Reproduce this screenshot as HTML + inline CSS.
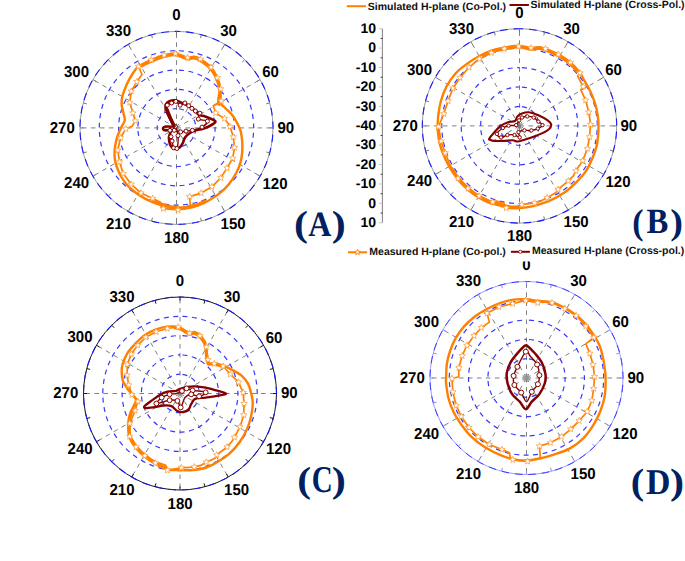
<!DOCTYPE html>
<html><head><meta charset="utf-8"><style>
html,body{margin:0;padding:0;background:#fff;}
svg{display:block;}
text{text-rendering:geometricPrecision;}
.lb{font-family:"Liberation Sans",sans-serif;font-weight:bold;font-size:15.8px;fill:#000;}
.ax{font-family:"Liberation Sans",sans-serif;font-weight:bold;font-size:14px;fill:#000;}
.lg{font-family:"Liberation Sans",sans-serif;font-weight:bold;font-size:10.5px;fill:#111;}
.big{font-family:"Liberation Serif",serif;font-weight:bold;font-size:36px;fill:#002060;}
</style></head><body>
<svg width="685" height="561" viewBox="0 0 685 561">
<line x1="176.50" y1="127.90" x2="176.50" y2="31.40" stroke="#808080" stroke-width="1" stroke-dasharray="4.6 4.4"/>
<line x1="176.50" y1="127.90" x2="224.75" y2="44.33" stroke="#808080" stroke-width="1" stroke-dasharray="4.6 4.4"/>
<line x1="176.50" y1="127.90" x2="260.07" y2="79.65" stroke="#808080" stroke-width="1" stroke-dasharray="4.6 4.4"/>
<line x1="176.50" y1="127.90" x2="273.00" y2="127.90" stroke="#808080" stroke-width="1" stroke-dasharray="4.6 4.4"/>
<line x1="176.50" y1="127.90" x2="260.07" y2="176.15" stroke="#808080" stroke-width="1" stroke-dasharray="4.6 4.4"/>
<line x1="176.50" y1="127.90" x2="224.75" y2="211.47" stroke="#808080" stroke-width="1" stroke-dasharray="4.6 4.4"/>
<line x1="176.50" y1="127.90" x2="176.50" y2="224.40" stroke="#808080" stroke-width="1" stroke-dasharray="4.6 4.4"/>
<line x1="176.50" y1="127.90" x2="128.25" y2="211.47" stroke="#808080" stroke-width="1" stroke-dasharray="4.6 4.4"/>
<line x1="176.50" y1="127.90" x2="92.93" y2="176.15" stroke="#808080" stroke-width="1" stroke-dasharray="4.6 4.4"/>
<line x1="176.50" y1="127.90" x2="80.00" y2="127.90" stroke="#808080" stroke-width="1" stroke-dasharray="4.6 4.4"/>
<line x1="176.50" y1="127.90" x2="92.93" y2="79.65" stroke="#808080" stroke-width="1" stroke-dasharray="4.6 4.4"/>
<line x1="176.50" y1="127.90" x2="128.25" y2="44.33" stroke="#808080" stroke-width="1" stroke-dasharray="4.6 4.4"/>
<path d="M176.50,108.60 A19.30,19.30 0 1 1 176.50,147.20 A19.30,19.30 0 1 1 176.50,108.60" fill="none" stroke="#3838ff" stroke-width="1.2" stroke-dasharray="5 4.5" stroke-dashoffset="-2.5"/>
<path d="M176.50,89.30 A38.60,38.60 0 1 1 176.50,166.50 A38.60,38.60 0 1 1 176.50,89.30" fill="none" stroke="#3838ff" stroke-width="1.2" stroke-dasharray="5 4.5" stroke-dashoffset="-2.5"/>
<path d="M176.50,70.00 A57.90,57.90 0 1 1 176.50,185.80 A57.90,57.90 0 1 1 176.50,70.00" fill="none" stroke="#3838ff" stroke-width="1.2" stroke-dasharray="5 4.5" stroke-dashoffset="-2.5"/>
<path d="M176.50,50.70 A77.20,77.20 0 1 1 176.50,205.10 A77.20,77.20 0 1 1 176.50,50.70" fill="none" stroke="#3838ff" stroke-width="1.2" stroke-dasharray="5 4.5" stroke-dashoffset="-2.5"/>
<circle cx="176.5" cy="127.9" r="96.50" fill="none" stroke="#9a9a9a" stroke-width="1"/>
<path d="M176.50,31.40 A96.50,96.50 0 1 1 176.50,224.40 A96.50,96.50 0 1 1 176.50,31.40" fill="none" stroke="#1a1aff" stroke-width="1.1" stroke-dasharray="7.5 6" stroke-dashoffset="3.75"/>
<line x1="176.50" y1="31.40" x2="176.50" y2="34.90" stroke="#777" stroke-width="1"/>
<line x1="201.48" y1="34.69" x2="200.57" y2="38.07" stroke="#777" stroke-width="1"/>
<line x1="224.75" y1="44.33" x2="223.00" y2="47.36" stroke="#777" stroke-width="1"/>
<line x1="244.74" y1="59.66" x2="242.26" y2="62.14" stroke="#777" stroke-width="1"/>
<line x1="260.07" y1="79.65" x2="257.04" y2="81.40" stroke="#777" stroke-width="1"/>
<line x1="269.71" y1="102.92" x2="266.33" y2="103.83" stroke="#777" stroke-width="1"/>
<line x1="273.00" y1="127.90" x2="269.50" y2="127.90" stroke="#777" stroke-width="1"/>
<line x1="269.71" y1="152.88" x2="266.33" y2="151.97" stroke="#777" stroke-width="1"/>
<line x1="260.07" y1="176.15" x2="257.04" y2="174.40" stroke="#777" stroke-width="1"/>
<line x1="244.74" y1="196.14" x2="242.26" y2="193.66" stroke="#777" stroke-width="1"/>
<line x1="224.75" y1="211.47" x2="223.00" y2="208.44" stroke="#777" stroke-width="1"/>
<line x1="201.48" y1="221.11" x2="200.57" y2="217.73" stroke="#777" stroke-width="1"/>
<line x1="176.50" y1="224.40" x2="176.50" y2="220.90" stroke="#777" stroke-width="1"/>
<line x1="151.52" y1="221.11" x2="152.43" y2="217.73" stroke="#777" stroke-width="1"/>
<line x1="128.25" y1="211.47" x2="130.00" y2="208.44" stroke="#777" stroke-width="1"/>
<line x1="108.26" y1="196.14" x2="110.74" y2="193.66" stroke="#777" stroke-width="1"/>
<line x1="92.93" y1="176.15" x2="95.96" y2="174.40" stroke="#777" stroke-width="1"/>
<line x1="83.29" y1="152.88" x2="86.67" y2="151.97" stroke="#777" stroke-width="1"/>
<line x1="80.00" y1="127.90" x2="83.50" y2="127.90" stroke="#777" stroke-width="1"/>
<line x1="83.29" y1="102.92" x2="86.67" y2="103.83" stroke="#777" stroke-width="1"/>
<line x1="92.93" y1="79.65" x2="95.96" y2="81.40" stroke="#777" stroke-width="1"/>
<line x1="108.26" y1="59.66" x2="110.74" y2="62.14" stroke="#777" stroke-width="1"/>
<line x1="128.25" y1="44.33" x2="130.00" y2="47.36" stroke="#777" stroke-width="1"/>
<line x1="151.52" y1="34.69" x2="152.43" y2="38.07" stroke="#777" stroke-width="1"/>
<text transform="translate(176.45,20.26) scale(0.95,1)" x="0" y="0" text-anchor="middle" class="lb">0</text>
<text transform="translate(228.60,36.16) scale(0.95,1)" x="0" y="0" text-anchor="middle" class="lb">30</text>
<text transform="translate(270.55,77.16) scale(0.95,1)" x="0" y="0" text-anchor="middle" class="lb">60</text>
<text transform="translate(285.85,132.86) scale(0.95,1)" x="0" y="0" text-anchor="middle" class="lb">90</text>
<text transform="translate(274.95,188.76) scale(0.95,1)" x="0" y="0" text-anchor="middle" class="lb">120</text>
<text transform="translate(233.05,229.26) scale(0.95,1)" x="0" y="0" text-anchor="middle" class="lb">150</text>
<text transform="translate(176.55,243.26) scale(0.95,1)" x="0" y="0" text-anchor="middle" class="lb">180</text>
<text transform="translate(118.45,229.36) scale(0.95,1)" x="0" y="0" text-anchor="middle" class="lb">210</text>
<text transform="translate(76.55,188.46) scale(0.95,1)" x="0" y="0" text-anchor="middle" class="lb">240</text>
<text transform="translate(62.20,132.76) scale(0.95,1)" x="0" y="0" text-anchor="middle" class="lb">270</text>
<text transform="translate(76.45,76.71) scale(0.95,1)" x="0" y="0" text-anchor="middle" class="lb">300</text>
<text transform="translate(118.50,36.16) scale(0.95,1)" x="0" y="0" text-anchor="middle" class="lb">330</text>
<line x1="519.50" y1="125.90" x2="519.50" y2="28.70" stroke="#808080" stroke-width="1" stroke-dasharray="4.6 4.4"/>
<line x1="519.50" y1="125.90" x2="568.10" y2="41.72" stroke="#808080" stroke-width="1" stroke-dasharray="4.6 4.4"/>
<line x1="519.50" y1="125.90" x2="603.68" y2="77.30" stroke="#808080" stroke-width="1" stroke-dasharray="4.6 4.4"/>
<line x1="519.50" y1="125.90" x2="616.70" y2="125.90" stroke="#808080" stroke-width="1" stroke-dasharray="4.6 4.4"/>
<line x1="519.50" y1="125.90" x2="603.68" y2="174.50" stroke="#808080" stroke-width="1" stroke-dasharray="4.6 4.4"/>
<line x1="519.50" y1="125.90" x2="568.10" y2="210.08" stroke="#808080" stroke-width="1" stroke-dasharray="4.6 4.4"/>
<line x1="519.50" y1="125.90" x2="519.50" y2="223.10" stroke="#808080" stroke-width="1" stroke-dasharray="4.6 4.4"/>
<line x1="519.50" y1="125.90" x2="470.90" y2="210.08" stroke="#808080" stroke-width="1" stroke-dasharray="4.6 4.4"/>
<line x1="519.50" y1="125.90" x2="435.32" y2="174.50" stroke="#808080" stroke-width="1" stroke-dasharray="4.6 4.4"/>
<line x1="519.50" y1="125.90" x2="422.30" y2="125.90" stroke="#808080" stroke-width="1" stroke-dasharray="4.6 4.4"/>
<line x1="519.50" y1="125.90" x2="435.32" y2="77.30" stroke="#808080" stroke-width="1" stroke-dasharray="4.6 4.4"/>
<line x1="519.50" y1="125.90" x2="470.90" y2="41.72" stroke="#808080" stroke-width="1" stroke-dasharray="4.6 4.4"/>
<path d="M519.50,106.46 A19.44,19.44 0 1 1 519.50,145.34 A19.44,19.44 0 1 1 519.50,106.46" fill="none" stroke="#3838ff" stroke-width="1.2" stroke-dasharray="5 4.5" stroke-dashoffset="-2.5"/>
<path d="M519.50,87.02 A38.88,38.88 0 1 1 519.50,164.78 A38.88,38.88 0 1 1 519.50,87.02" fill="none" stroke="#3838ff" stroke-width="1.2" stroke-dasharray="5 4.5" stroke-dashoffset="-2.5"/>
<path d="M519.50,67.58 A58.32,58.32 0 1 1 519.50,184.22 A58.32,58.32 0 1 1 519.50,67.58" fill="none" stroke="#3838ff" stroke-width="1.2" stroke-dasharray="5 4.5" stroke-dashoffset="-2.5"/>
<path d="M519.50,48.14 A77.76,77.76 0 1 1 519.50,203.66 A77.76,77.76 0 1 1 519.50,48.14" fill="none" stroke="#3838ff" stroke-width="1.2" stroke-dasharray="5 4.5" stroke-dashoffset="-2.5"/>
<circle cx="519.5" cy="125.9" r="97.20" fill="none" stroke="#9a9a9a" stroke-width="1"/>
<path d="M519.50,28.70 A97.20,97.20 0 1 1 519.50,223.10 A97.20,97.20 0 1 1 519.50,28.70" fill="none" stroke="#1a1aff" stroke-width="1.1" stroke-dasharray="7.5 6" stroke-dashoffset="3.75"/>
<line x1="519.50" y1="28.70" x2="519.50" y2="32.20" stroke="#777" stroke-width="1"/>
<line x1="544.66" y1="32.01" x2="543.75" y2="35.39" stroke="#777" stroke-width="1"/>
<line x1="568.10" y1="41.72" x2="566.35" y2="44.75" stroke="#777" stroke-width="1"/>
<line x1="588.23" y1="57.17" x2="585.76" y2="59.64" stroke="#777" stroke-width="1"/>
<line x1="603.68" y1="77.30" x2="600.65" y2="79.05" stroke="#777" stroke-width="1"/>
<line x1="613.39" y1="100.74" x2="610.01" y2="101.65" stroke="#777" stroke-width="1"/>
<line x1="616.70" y1="125.90" x2="613.20" y2="125.90" stroke="#777" stroke-width="1"/>
<line x1="613.39" y1="151.06" x2="610.01" y2="150.15" stroke="#777" stroke-width="1"/>
<line x1="603.68" y1="174.50" x2="600.65" y2="172.75" stroke="#777" stroke-width="1"/>
<line x1="588.23" y1="194.63" x2="585.76" y2="192.16" stroke="#777" stroke-width="1"/>
<line x1="568.10" y1="210.08" x2="566.35" y2="207.05" stroke="#777" stroke-width="1"/>
<line x1="544.66" y1="219.79" x2="543.75" y2="216.41" stroke="#777" stroke-width="1"/>
<line x1="519.50" y1="223.10" x2="519.50" y2="219.60" stroke="#777" stroke-width="1"/>
<line x1="494.34" y1="219.79" x2="495.25" y2="216.41" stroke="#777" stroke-width="1"/>
<line x1="470.90" y1="210.08" x2="472.65" y2="207.05" stroke="#777" stroke-width="1"/>
<line x1="450.77" y1="194.63" x2="453.24" y2="192.16" stroke="#777" stroke-width="1"/>
<line x1="435.32" y1="174.50" x2="438.35" y2="172.75" stroke="#777" stroke-width="1"/>
<line x1="425.61" y1="151.06" x2="428.99" y2="150.15" stroke="#777" stroke-width="1"/>
<line x1="422.30" y1="125.90" x2="425.80" y2="125.90" stroke="#777" stroke-width="1"/>
<line x1="425.61" y1="100.74" x2="428.99" y2="101.65" stroke="#777" stroke-width="1"/>
<line x1="435.32" y1="77.30" x2="438.35" y2="79.05" stroke="#777" stroke-width="1"/>
<line x1="450.77" y1="57.17" x2="453.24" y2="59.64" stroke="#777" stroke-width="1"/>
<line x1="470.90" y1="41.72" x2="472.65" y2="44.75" stroke="#777" stroke-width="1"/>
<line x1="494.34" y1="32.01" x2="495.25" y2="35.39" stroke="#777" stroke-width="1"/>
<text transform="translate(519.45,18.26) scale(0.95,1)" x="0" y="0" text-anchor="middle" class="lb">0</text>
<text transform="translate(571.60,34.16) scale(0.95,1)" x="0" y="0" text-anchor="middle" class="lb">30</text>
<text transform="translate(613.55,75.16) scale(0.95,1)" x="0" y="0" text-anchor="middle" class="lb">60</text>
<text transform="translate(628.85,130.86) scale(0.95,1)" x="0" y="0" text-anchor="middle" class="lb">90</text>
<text transform="translate(617.95,186.76) scale(0.95,1)" x="0" y="0" text-anchor="middle" class="lb">120</text>
<text transform="translate(576.05,227.26) scale(0.95,1)" x="0" y="0" text-anchor="middle" class="lb">150</text>
<text transform="translate(519.55,241.26) scale(0.95,1)" x="0" y="0" text-anchor="middle" class="lb">180</text>
<text transform="translate(461.45,227.36) scale(0.95,1)" x="0" y="0" text-anchor="middle" class="lb">210</text>
<text transform="translate(419.55,186.46) scale(0.95,1)" x="0" y="0" text-anchor="middle" class="lb">240</text>
<text transform="translate(405.20,130.76) scale(0.95,1)" x="0" y="0" text-anchor="middle" class="lb">270</text>
<text transform="translate(419.45,74.71) scale(0.95,1)" x="0" y="0" text-anchor="middle" class="lb">300</text>
<text transform="translate(461.50,34.16) scale(0.95,1)" x="0" y="0" text-anchor="middle" class="lb">330</text>
<line x1="180.00" y1="393.50" x2="180.00" y2="297.00" stroke="#808080" stroke-width="1" stroke-dasharray="4.6 4.4"/>
<line x1="180.00" y1="393.50" x2="228.25" y2="309.93" stroke="#808080" stroke-width="1" stroke-dasharray="4.6 4.4"/>
<line x1="180.00" y1="393.50" x2="263.57" y2="345.25" stroke="#808080" stroke-width="1" stroke-dasharray="4.6 4.4"/>
<line x1="180.00" y1="393.50" x2="276.50" y2="393.50" stroke="#808080" stroke-width="1" stroke-dasharray="4.6 4.4"/>
<line x1="180.00" y1="393.50" x2="263.57" y2="441.75" stroke="#808080" stroke-width="1" stroke-dasharray="4.6 4.4"/>
<line x1="180.00" y1="393.50" x2="228.25" y2="477.07" stroke="#808080" stroke-width="1" stroke-dasharray="4.6 4.4"/>
<line x1="180.00" y1="393.50" x2="180.00" y2="490.00" stroke="#808080" stroke-width="1" stroke-dasharray="4.6 4.4"/>
<line x1="180.00" y1="393.50" x2="131.75" y2="477.07" stroke="#808080" stroke-width="1" stroke-dasharray="4.6 4.4"/>
<line x1="180.00" y1="393.50" x2="96.43" y2="441.75" stroke="#808080" stroke-width="1" stroke-dasharray="4.6 4.4"/>
<line x1="180.00" y1="393.50" x2="83.50" y2="393.50" stroke="#808080" stroke-width="1" stroke-dasharray="4.6 4.4"/>
<line x1="180.00" y1="393.50" x2="96.43" y2="345.25" stroke="#808080" stroke-width="1" stroke-dasharray="4.6 4.4"/>
<line x1="180.00" y1="393.50" x2="131.75" y2="309.93" stroke="#808080" stroke-width="1" stroke-dasharray="4.6 4.4"/>
<path d="M180.00,374.20 A19.30,19.30 0 1 1 180.00,412.80 A19.30,19.30 0 1 1 180.00,374.20" fill="none" stroke="#3838ff" stroke-width="1.2" stroke-dasharray="5 4.5" stroke-dashoffset="-2.5"/>
<path d="M180.00,354.90 A38.60,38.60 0 1 1 180.00,432.10 A38.60,38.60 0 1 1 180.00,354.90" fill="none" stroke="#3838ff" stroke-width="1.2" stroke-dasharray="5 4.5" stroke-dashoffset="-2.5"/>
<path d="M180.00,335.60 A57.90,57.90 0 1 1 180.00,451.40 A57.90,57.90 0 1 1 180.00,335.60" fill="none" stroke="#3838ff" stroke-width="1.2" stroke-dasharray="5 4.5" stroke-dashoffset="-2.5"/>
<path d="M180.00,316.30 A77.20,77.20 0 1 1 180.00,470.70 A77.20,77.20 0 1 1 180.00,316.30" fill="none" stroke="#3838ff" stroke-width="1.2" stroke-dasharray="5 4.5" stroke-dashoffset="-2.5"/>
<circle cx="180.0" cy="393.5" r="96.50" fill="none" stroke="#151515" stroke-width="1"/>
<path d="M180.00,297.00 A96.50,96.50 0 1 1 180.00,490.00 A96.50,96.50 0 1 1 180.00,297.00" fill="none" stroke="#1a1aff" stroke-width="1.1" stroke-dasharray="7.5 6" stroke-dashoffset="3.75"/>
<line x1="180.00" y1="297.00" x2="180.00" y2="300.50" stroke="#151515" stroke-width="1"/>
<line x1="204.98" y1="300.29" x2="204.07" y2="303.67" stroke="#151515" stroke-width="1"/>
<line x1="228.25" y1="309.93" x2="226.50" y2="312.96" stroke="#151515" stroke-width="1"/>
<line x1="248.24" y1="325.26" x2="245.76" y2="327.74" stroke="#151515" stroke-width="1"/>
<line x1="263.57" y1="345.25" x2="260.54" y2="347.00" stroke="#151515" stroke-width="1"/>
<line x1="273.21" y1="368.52" x2="269.83" y2="369.43" stroke="#151515" stroke-width="1"/>
<line x1="276.50" y1="393.50" x2="273.00" y2="393.50" stroke="#151515" stroke-width="1"/>
<line x1="273.21" y1="418.48" x2="269.83" y2="417.57" stroke="#151515" stroke-width="1"/>
<line x1="263.57" y1="441.75" x2="260.54" y2="440.00" stroke="#151515" stroke-width="1"/>
<line x1="248.24" y1="461.74" x2="245.76" y2="459.26" stroke="#151515" stroke-width="1"/>
<line x1="228.25" y1="477.07" x2="226.50" y2="474.04" stroke="#151515" stroke-width="1"/>
<line x1="204.98" y1="486.71" x2="204.07" y2="483.33" stroke="#151515" stroke-width="1"/>
<line x1="180.00" y1="490.00" x2="180.00" y2="486.50" stroke="#151515" stroke-width="1"/>
<line x1="155.02" y1="486.71" x2="155.93" y2="483.33" stroke="#151515" stroke-width="1"/>
<line x1="131.75" y1="477.07" x2="133.50" y2="474.04" stroke="#151515" stroke-width="1"/>
<line x1="111.76" y1="461.74" x2="114.24" y2="459.26" stroke="#151515" stroke-width="1"/>
<line x1="96.43" y1="441.75" x2="99.46" y2="440.00" stroke="#151515" stroke-width="1"/>
<line x1="86.79" y1="418.48" x2="90.17" y2="417.57" stroke="#151515" stroke-width="1"/>
<line x1="83.50" y1="393.50" x2="87.00" y2="393.50" stroke="#151515" stroke-width="1"/>
<line x1="86.79" y1="368.52" x2="90.17" y2="369.43" stroke="#151515" stroke-width="1"/>
<line x1="96.43" y1="345.25" x2="99.46" y2="347.00" stroke="#151515" stroke-width="1"/>
<line x1="111.76" y1="325.26" x2="114.24" y2="327.74" stroke="#151515" stroke-width="1"/>
<line x1="131.75" y1="309.93" x2="133.50" y2="312.96" stroke="#151515" stroke-width="1"/>
<line x1="155.02" y1="300.29" x2="155.93" y2="303.67" stroke="#151515" stroke-width="1"/>
<text transform="translate(179.95,285.86) scale(0.95,1)" x="0" y="0" text-anchor="middle" class="lb">0</text>
<text transform="translate(232.10,301.76) scale(0.95,1)" x="0" y="0" text-anchor="middle" class="lb">30</text>
<text transform="translate(274.05,342.76) scale(0.95,1)" x="0" y="0" text-anchor="middle" class="lb">60</text>
<text transform="translate(289.35,398.46) scale(0.95,1)" x="0" y="0" text-anchor="middle" class="lb">90</text>
<text transform="translate(278.45,454.36) scale(0.95,1)" x="0" y="0" text-anchor="middle" class="lb">120</text>
<text transform="translate(236.55,494.86) scale(0.95,1)" x="0" y="0" text-anchor="middle" class="lb">150</text>
<text transform="translate(180.05,508.86) scale(0.95,1)" x="0" y="0" text-anchor="middle" class="lb">180</text>
<text transform="translate(121.95,494.96) scale(0.95,1)" x="0" y="0" text-anchor="middle" class="lb">210</text>
<text transform="translate(80.05,454.06) scale(0.95,1)" x="0" y="0" text-anchor="middle" class="lb">240</text>
<text transform="translate(65.70,398.36) scale(0.95,1)" x="0" y="0" text-anchor="middle" class="lb">270</text>
<text transform="translate(79.95,342.31) scale(0.95,1)" x="0" y="0" text-anchor="middle" class="lb">300</text>
<text transform="translate(122.00,301.76) scale(0.95,1)" x="0" y="0" text-anchor="middle" class="lb">330</text>
<line x1="526.50" y1="378.00" x2="526.50" y2="281.50" stroke="#808080" stroke-width="1" stroke-dasharray="4.6 4.4"/>
<line x1="526.50" y1="378.00" x2="574.75" y2="294.43" stroke="#808080" stroke-width="1" stroke-dasharray="4.6 4.4"/>
<line x1="526.50" y1="378.00" x2="610.07" y2="329.75" stroke="#808080" stroke-width="1" stroke-dasharray="4.6 4.4"/>
<line x1="526.50" y1="378.00" x2="623.00" y2="378.00" stroke="#808080" stroke-width="1" stroke-dasharray="4.6 4.4"/>
<line x1="526.50" y1="378.00" x2="610.07" y2="426.25" stroke="#808080" stroke-width="1" stroke-dasharray="4.6 4.4"/>
<line x1="526.50" y1="378.00" x2="574.75" y2="461.57" stroke="#808080" stroke-width="1" stroke-dasharray="4.6 4.4"/>
<line x1="526.50" y1="378.00" x2="526.50" y2="474.50" stroke="#808080" stroke-width="1" stroke-dasharray="4.6 4.4"/>
<line x1="526.50" y1="378.00" x2="478.25" y2="461.57" stroke="#808080" stroke-width="1" stroke-dasharray="4.6 4.4"/>
<line x1="526.50" y1="378.00" x2="442.93" y2="426.25" stroke="#808080" stroke-width="1" stroke-dasharray="4.6 4.4"/>
<line x1="526.50" y1="378.00" x2="430.00" y2="378.00" stroke="#808080" stroke-width="1" stroke-dasharray="4.6 4.4"/>
<line x1="526.50" y1="378.00" x2="442.93" y2="329.75" stroke="#808080" stroke-width="1" stroke-dasharray="4.6 4.4"/>
<line x1="526.50" y1="378.00" x2="478.25" y2="294.43" stroke="#808080" stroke-width="1" stroke-dasharray="4.6 4.4"/>
<path d="M526.50,358.70 A19.30,19.30 0 1 1 526.50,397.30 A19.30,19.30 0 1 1 526.50,358.70" fill="none" stroke="#3838ff" stroke-width="1.2" stroke-dasharray="5 4.5" stroke-dashoffset="-2.5"/>
<path d="M526.50,339.40 A38.60,38.60 0 1 1 526.50,416.60 A38.60,38.60 0 1 1 526.50,339.40" fill="none" stroke="#3838ff" stroke-width="1.2" stroke-dasharray="5 4.5" stroke-dashoffset="-2.5"/>
<path d="M526.50,320.10 A57.90,57.90 0 1 1 526.50,435.90 A57.90,57.90 0 1 1 526.50,320.10" fill="none" stroke="#3838ff" stroke-width="1.2" stroke-dasharray="5 4.5" stroke-dashoffset="-2.5"/>
<path d="M526.50,300.80 A77.20,77.20 0 1 1 526.50,455.20 A77.20,77.20 0 1 1 526.50,300.80" fill="none" stroke="#3838ff" stroke-width="1.2" stroke-dasharray="5 4.5" stroke-dashoffset="-2.5"/>
<circle cx="526.5" cy="378.0" r="96.50" fill="none" stroke="#9c9cff" stroke-width="1"/>
<path d="M526.50,281.50 A96.50,96.50 0 1 1 526.50,474.50 A96.50,96.50 0 1 1 526.50,281.50" fill="none" stroke="#3a3aff" stroke-width="1.0" stroke-dasharray="7.5 6" stroke-dashoffset="3.75"/>
<line x1="526.50" y1="281.50" x2="526.50" y2="285.00" stroke="#8c8cff" stroke-width="1"/>
<line x1="551.48" y1="284.79" x2="550.57" y2="288.17" stroke="#8c8cff" stroke-width="1"/>
<line x1="574.75" y1="294.43" x2="573.00" y2="297.46" stroke="#8c8cff" stroke-width="1"/>
<line x1="594.74" y1="309.76" x2="592.26" y2="312.24" stroke="#8c8cff" stroke-width="1"/>
<line x1="610.07" y1="329.75" x2="607.04" y2="331.50" stroke="#8c8cff" stroke-width="1"/>
<line x1="619.71" y1="353.02" x2="616.33" y2="353.93" stroke="#8c8cff" stroke-width="1"/>
<line x1="623.00" y1="378.00" x2="619.50" y2="378.00" stroke="#8c8cff" stroke-width="1"/>
<line x1="619.71" y1="402.98" x2="616.33" y2="402.07" stroke="#8c8cff" stroke-width="1"/>
<line x1="610.07" y1="426.25" x2="607.04" y2="424.50" stroke="#8c8cff" stroke-width="1"/>
<line x1="594.74" y1="446.24" x2="592.26" y2="443.76" stroke="#8c8cff" stroke-width="1"/>
<line x1="574.75" y1="461.57" x2="573.00" y2="458.54" stroke="#8c8cff" stroke-width="1"/>
<line x1="551.48" y1="471.21" x2="550.57" y2="467.83" stroke="#8c8cff" stroke-width="1"/>
<line x1="526.50" y1="474.50" x2="526.50" y2="471.00" stroke="#8c8cff" stroke-width="1"/>
<line x1="501.52" y1="471.21" x2="502.43" y2="467.83" stroke="#8c8cff" stroke-width="1"/>
<line x1="478.25" y1="461.57" x2="480.00" y2="458.54" stroke="#8c8cff" stroke-width="1"/>
<line x1="458.26" y1="446.24" x2="460.74" y2="443.76" stroke="#8c8cff" stroke-width="1"/>
<line x1="442.93" y1="426.25" x2="445.96" y2="424.50" stroke="#8c8cff" stroke-width="1"/>
<line x1="433.29" y1="402.98" x2="436.67" y2="402.07" stroke="#8c8cff" stroke-width="1"/>
<line x1="430.00" y1="378.00" x2="433.50" y2="378.00" stroke="#8c8cff" stroke-width="1"/>
<line x1="433.29" y1="353.02" x2="436.67" y2="353.93" stroke="#8c8cff" stroke-width="1"/>
<line x1="442.93" y1="329.75" x2="445.96" y2="331.50" stroke="#8c8cff" stroke-width="1"/>
<line x1="458.26" y1="309.76" x2="460.74" y2="312.24" stroke="#8c8cff" stroke-width="1"/>
<line x1="478.25" y1="294.43" x2="480.00" y2="297.46" stroke="#8c8cff" stroke-width="1"/>
<line x1="501.52" y1="284.79" x2="502.43" y2="288.17" stroke="#8c8cff" stroke-width="1"/>
<text transform="translate(526.45,270.36) scale(0.95,1)" x="0" y="0" text-anchor="middle" class="lb">0</text>
<text transform="translate(578.60,286.26) scale(0.95,1)" x="0" y="0" text-anchor="middle" class="lb">30</text>
<text transform="translate(620.55,327.26) scale(0.95,1)" x="0" y="0" text-anchor="middle" class="lb">60</text>
<text transform="translate(635.85,382.96) scale(0.95,1)" x="0" y="0" text-anchor="middle" class="lb">90</text>
<text transform="translate(624.95,438.86) scale(0.95,1)" x="0" y="0" text-anchor="middle" class="lb">120</text>
<text transform="translate(583.05,479.36) scale(0.95,1)" x="0" y="0" text-anchor="middle" class="lb">150</text>
<text transform="translate(526.55,493.36) scale(0.95,1)" x="0" y="0" text-anchor="middle" class="lb">180</text>
<text transform="translate(468.45,479.46) scale(0.95,1)" x="0" y="0" text-anchor="middle" class="lb">210</text>
<text transform="translate(426.55,438.56) scale(0.95,1)" x="0" y="0" text-anchor="middle" class="lb">240</text>
<text transform="translate(412.20,382.86) scale(0.95,1)" x="0" y="0" text-anchor="middle" class="lb">270</text>
<text transform="translate(426.45,326.81) scale(0.95,1)" x="0" y="0" text-anchor="middle" class="lb">300</text>
<text transform="translate(468.50,286.26) scale(0.95,1)" x="0" y="0" text-anchor="middle" class="lb">330</text>
<line x1="382.4" y1="28.7" x2="382.4" y2="222.80" stroke="#888" stroke-width="1.1"/>
<line x1="378.9" y1="28.70" x2="382.4" y2="28.70" stroke="#c8c8c8" stroke-width="1"/>
<line x1="380.59999999999997" y1="38.41" x2="382.4" y2="38.41" stroke="#333" stroke-width="1"/>
<text x="376" y="32.91" text-anchor="end" class="ax">10</text>
<line x1="378.9" y1="48.11" x2="382.4" y2="48.11" stroke="#c8c8c8" stroke-width="1"/>
<line x1="380.59999999999997" y1="57.81" x2="382.4" y2="57.81" stroke="#333" stroke-width="1"/>
<text x="376" y="52.32" text-anchor="end" class="ax">0</text>
<line x1="378.9" y1="67.52" x2="382.4" y2="67.52" stroke="#c8c8c8" stroke-width="1"/>
<line x1="380.59999999999997" y1="77.22" x2="382.4" y2="77.22" stroke="#333" stroke-width="1"/>
<text x="376" y="71.73" text-anchor="end" class="ax">-10</text>
<line x1="378.9" y1="86.93" x2="382.4" y2="86.93" stroke="#c8c8c8" stroke-width="1"/>
<line x1="380.59999999999997" y1="96.64" x2="382.4" y2="96.64" stroke="#333" stroke-width="1"/>
<text x="376" y="91.14" text-anchor="end" class="ax">-20</text>
<line x1="378.9" y1="106.34" x2="382.4" y2="106.34" stroke="#c8c8c8" stroke-width="1"/>
<line x1="380.59999999999997" y1="116.05" x2="382.4" y2="116.05" stroke="#333" stroke-width="1"/>
<text x="376" y="110.55" text-anchor="end" class="ax">-30</text>
<line x1="378.9" y1="125.75" x2="382.4" y2="125.75" stroke="#c8c8c8" stroke-width="1"/>
<line x1="380.59999999999997" y1="135.46" x2="382.4" y2="135.46" stroke="#333" stroke-width="1"/>
<text x="376" y="129.96" text-anchor="end" class="ax">-40</text>
<line x1="378.9" y1="145.16" x2="382.4" y2="145.16" stroke="#c8c8c8" stroke-width="1"/>
<line x1="380.59999999999997" y1="154.87" x2="382.4" y2="154.87" stroke="#333" stroke-width="1"/>
<text x="376" y="149.37" text-anchor="end" class="ax">-30</text>
<line x1="378.9" y1="164.57" x2="382.4" y2="164.57" stroke="#c8c8c8" stroke-width="1"/>
<line x1="380.59999999999997" y1="174.28" x2="382.4" y2="174.28" stroke="#333" stroke-width="1"/>
<text x="376" y="168.78" text-anchor="end" class="ax">-20</text>
<line x1="378.9" y1="183.98" x2="382.4" y2="183.98" stroke="#c8c8c8" stroke-width="1"/>
<line x1="380.59999999999997" y1="193.69" x2="382.4" y2="193.69" stroke="#333" stroke-width="1"/>
<text x="376" y="188.19" text-anchor="end" class="ax">-10</text>
<line x1="378.9" y1="203.39" x2="382.4" y2="203.39" stroke="#c8c8c8" stroke-width="1"/>
<line x1="380.59999999999997" y1="213.09" x2="382.4" y2="213.09" stroke="#333" stroke-width="1"/>
<text x="376" y="207.60" text-anchor="end" class="ax">0</text>
<line x1="378.9" y1="222.80" x2="382.4" y2="222.80" stroke="#c8c8c8" stroke-width="1"/>
<text x="376" y="227.01" text-anchor="end" class="ax">10</text>
<line x1="346.8" y1="6.2" x2="365.9" y2="6.2" stroke="#ff8000" stroke-width="2"/>
<text x="367.8" y="9.5" class="lg">Simulated H-plane (Co-Pol.)</text>
<line x1="509.5" y1="5.0" x2="528.9" y2="5.0" stroke="#840000" stroke-width="2"/>
<text x="530.6" y="7.6" class="lg">Simulated H-plane (Cross-Pol.)</text>
<line x1="347.9" y1="252.3" x2="367.1" y2="252.3" stroke="#ff8000" stroke-width="2"/>
<text x="369.3" y="255.2" class="lg">Measured H-plane (Co-pol.)</text>
<path d="M357.50,249.30 L358.26,251.25 L360.35,251.37 L358.74,252.70 L359.26,254.73 L357.50,253.60 L355.74,254.73 L356.26,252.70 L354.65,251.37 L356.74,251.25Z" fill="#fff" stroke="#ff8000" stroke-width="0.9"/>
<rect x="519" y="255.5" width="14" height="5.9" fill="#fff"/>
<line x1="510.9" y1="251.8" x2="529.9" y2="251.8" stroke="#840000" stroke-width="2"/>
<circle cx="520.3" cy="251.8" r="1.6" fill="#fff" stroke="#840000" stroke-width="0.8"/>
<text x="532.0" y="254.3" class="lg">Measured H-plane (Cross-pol.)</text>
<text transform="translate(294.02,235.92) scale(1.147,1)" x="0" y="0" class="big" style="font-size:36.56px">(</text>
<text transform="translate(308.18,236.00) scale(0.895,1)" x="0" y="0" class="big" style="font-size:35.76px">A</text>
<text transform="translate(331.84,235.92) scale(1.147,1)" x="0" y="0" class="big" style="font-size:36.56px">)</text>
<text transform="translate(632.15,234.04) scale(0.940,1)" x="0" y="0" class="big" style="font-size:36.00px">(</text>
<text transform="translate(646.55,233.40) scale(0.921,1)" x="0" y="0" class="big" style="font-size:35.54px">B</text>
<text transform="translate(670.16,234.04) scale(1.058,1)" x="0" y="0" class="big" style="font-size:36.00px">)</text>
<text transform="translate(297.24,492.12) scale(1.136,1)" x="0" y="0" class="big" style="font-size:36.56px">(</text>
<text transform="translate(311.85,492.22) scale(0.766,1)" x="0" y="0" class="big" style="font-size:37.88px">C</text>
<text transform="translate(331.83,492.12) scale(1.157,1)" x="0" y="0" class="big" style="font-size:36.56px">)</text>
<text transform="translate(630.78,494.05) scale(1.095,1)" x="0" y="0" class="big" style="font-size:36.89px">(</text>
<text transform="translate(645.92,493.80) scale(0.932,1)" x="0" y="0" class="big" style="font-size:36.31px">D</text>
<text transform="translate(670.03,494.05) scale(1.147,1)" x="0" y="0" class="big" style="font-size:36.89px">)</text>
<path d="M175.40,53.60 C179.32,54.00 184.50,57.07 187.60,57.60 C190.70,58.13 191.85,56.53 194.00,56.80 C196.15,57.07 197.68,57.45 200.50,59.20 C203.32,60.95 208.10,64.22 210.90,67.30 C213.70,70.38 215.70,74.10 217.30,77.70 C218.90,81.30 220.10,84.90 220.50,88.90 C220.90,92.90 219.03,98.63 219.70,101.70 C220.37,104.77 222.37,105.02 224.50,107.30 C226.63,109.58 230.37,112.72 232.50,115.40 C234.63,118.08 235.95,120.82 237.30,123.40 C238.65,125.98 239.78,127.90 240.60,130.90 C241.42,133.90 241.93,137.87 242.20,141.40 C242.47,144.93 242.50,148.53 242.20,152.10 C241.90,155.67 241.45,159.23 240.40,162.80 C239.35,166.37 237.83,169.93 235.90,173.50 C233.97,177.07 231.47,180.93 228.80,184.20 C226.13,187.47 223.17,190.43 219.90,193.10 C216.63,195.77 212.77,198.13 209.20,200.20 C205.63,202.27 201.47,204.32 198.50,205.50 C195.53,206.68 194.37,206.70 191.40,207.30 C188.43,207.90 184.65,209.10 180.70,209.10 C176.75,209.10 171.65,208.18 167.70,207.30 C163.75,206.42 160.85,205.28 157.00,203.80 C153.15,202.32 148.45,200.48 144.60,198.40 C140.75,196.32 137.17,193.97 133.90,191.30 C130.63,188.63 127.53,185.67 125.00,182.40 C122.47,179.13 120.35,175.27 118.70,171.70 C117.05,168.13 115.78,164.57 115.10,161.00 C114.42,157.43 114.30,154.17 114.60,150.30 C114.90,146.43 115.77,141.67 116.90,137.80 C118.03,133.93 120.08,130.03 121.40,127.10 C122.72,124.17 124.50,122.70 124.80,120.20 C125.10,117.70 123.73,114.78 123.20,112.10 C122.67,109.42 121.73,106.77 121.60,104.10 C121.47,101.43 121.58,99.30 122.40,96.10 C123.22,92.90 124.88,88.50 126.50,84.90 C128.12,81.30 130.10,77.57 132.10,74.50 C134.10,71.43 135.30,68.92 138.50,66.50 C141.70,64.08 147.03,61.88 151.30,60.00 C155.57,58.12 160.08,56.27 164.10,55.20 C168.12,54.13 171.48,53.20 175.40,53.60Z" fill="none" stroke="#ff8000" stroke-width="2.4" stroke-linejoin="round"/>
<path d="M175.42,55.20 L176.41,55.35 L177.43,55.60 L178.48,55.92 L179.55,56.29 L180.62,56.71 L181.69,57.15 L182.74,57.58 L183.76,58.01 L184.75,58.40 L185.68,58.73 L186.55,59.00 L187.35,59.18 L188.07,59.27 L188.72,59.28 L189.31,59.24 L189.85,59.14 L190.36,59.01 L190.83,58.87 L191.29,58.71 L191.73,58.57 L192.18,58.45 L192.63,58.36 L193.11,58.33 L193.62,58.35 L194.13,58.42 L194.63,58.50 L195.11,58.59 L195.59,58.69 L196.07,58.82 L196.55,58.98 L197.05,59.17 L197.57,59.39 L198.12,59.65 L198.69,59.95 L199.31,60.31 L199.97,60.71 L200.70,61.17 L201.49,61.69 L202.33,62.26 L203.22,62.87 L204.13,63.52 L205.05,64.21 L205.97,64.92 L206.88,65.66 L207.76,66.41 L208.61,67.17 L209.39,67.93 L210.11,68.69 L210.77,69.46 L211.41,70.26 L212.01,71.08 L212.58,71.91 L213.13,72.76 L213.65,73.63 L214.14,74.50 L214.61,75.38 L215.06,76.27 L215.49,77.16 L215.90,78.05 L216.29,78.94 L216.67,79.83 L217.02,80.72 L217.36,81.61 L217.68,82.50 L217.97,83.40 L218.24,84.31 L218.49,85.22 L218.71,86.14 L218.90,87.08 L219.07,88.03 L219.20,88.99 L219.30,89.96 L219.34,90.98 L219.31,92.05 L219.21,93.17 L219.07,94.31 L218.90,95.46 L218.71,96.60 L218.54,97.73 L218.39,98.82 L218.27,99.86 L218.21,100.84 L218.23,101.73 L218.33,102.53 L218.51,103.22 L218.75,103.81 L219.03,104.32 L219.36,104.77 M204.92,200.74 L204.00,201.22 L203.08,201.68 L202.18,202.12 L201.30,202.54 L200.44,202.94 L199.61,203.31 L198.81,203.65 L198.06,203.96 L197.37,204.23 L196.74,204.46 L196.16,204.65 L195.61,204.81 L195.09,204.94 L194.58,205.06 L194.08,205.17 L193.56,205.27 L193.01,205.37 L192.43,205.47 L191.80,205.59 L191.10,205.73 L190.36,205.89 L189.59,206.06 L188.78,206.25 L187.95,206.45 L187.10,206.65 L186.22,206.84 L185.33,207.02 L184.41,207.17 L183.48,207.31 L182.54,207.41 L181.58,207.48 L180.62,207.50 L179.63,207.48 L178.60,207.43 L177.54,207.34 L176.45,207.23 L175.35,207.09 L174.25,206.93 L173.14,206.75 L172.04,206.56 L170.95,206.36 L169.89,206.15 L168.87,205.93 L167.88,205.71 L166.93,205.49 L166.02,205.25 L165.14,205.01 L164.28,204.75 L163.43,204.48 L162.60,204.20 L161.77,203.91 L160.93,203.60 L160.08,203.29 L159.21,202.95 L158.32,202.61 L157.40,202.25 L156.44,201.88 L155.45,201.49 L154.44,201.09 L153.41,200.68 L152.37,200.25 L151.33,199.81 M142.03,66.13 L143.05,65.57 L144.11,65.02 L145.21,64.48 L146.33,63.96 L147.45,63.44 L148.58,62.94 L149.70,62.45 L150.79,61.97 L151.86,61.50 L152.90,61.04 L153.96,60.58 L155.02,60.13 L156.08,59.69 L157.14,59.26 L158.20,58.84 L159.26,58.44 L160.31,58.06 L161.34,57.70 L162.37,57.36 L163.38,57.06 L164.37,56.78 L165.34,56.52 L166.29,56.27 L167.21,56.03 L168.13,55.81 L169.03,55.61 L169.93,55.44 L170.83,55.30 L171.73,55.20 L172.63,55.13 L173.55,55.10 L174.48,55.13 " fill="none" stroke="#ff8000" stroke-width="2.4" stroke-linejoin="round" stroke-linecap="round"/>
<path d="M175.40,53.60 L187.60,57.60 L194.00,56.80 L200.50,59.20 L210.90,67.30 L217.30,77.70 L220.50,88.90 L221.30,100.90 L213.30,105.70 L215.70,113.00 L224.50,118.60 L230.10,126.60 L233.30,136.90 L234.50,147.60 L232.70,158.30 L227.00,168.10 L220.80,177.90 L211.90,186.80 L201.20,193.10 L189.60,196.60 L190.50,207.30 L178.00,210.00 L163.30,208.60 L161.50,207.30 L160.60,202.30 L152.60,198.40 L141.00,193.10 L131.20,184.20 L123.20,173.50 L119.60,161.90 L117.80,150.30 L120.50,137.80 L125.80,128.90 L132.10,126.20 L135.30,121.00 L132.90,113.00 L129.70,102.50 L131.30,91.30 L136.90,81.70 L142.00,74.50 L138.50,66.50 L151.30,60.00 L164.10,55.20Z" fill="none" stroke="#ff8000" stroke-width="1.7" stroke-linejoin="round"/>
<path d="M175.40,50.20 L176.28,52.39 L178.63,52.55 L176.83,54.06 L177.40,56.35 L175.40,55.10 L173.40,56.35 L173.97,54.06 L172.17,52.55 L174.52,52.39Z" fill="#fff" stroke="#ff9a33" stroke-width="0.75" stroke-linejoin="miter"/>
<path d="M187.60,54.20 L188.48,56.39 L190.83,56.55 L189.03,58.06 L189.60,60.35 L187.60,59.10 L185.60,60.35 L186.17,58.06 L184.37,56.55 L186.72,56.39Z" fill="#fff" stroke="#ff9a33" stroke-width="0.75" stroke-linejoin="miter"/>
<path d="M200.50,55.80 L201.38,57.99 L203.73,58.15 L201.93,59.66 L202.50,61.95 L200.50,60.70 L198.50,61.95 L199.07,59.66 L197.27,58.15 L199.62,57.99Z" fill="#fff" stroke="#ff9a33" stroke-width="0.75" stroke-linejoin="miter"/>
<path d="M210.90,63.90 L211.78,66.09 L214.13,66.25 L212.33,67.76 L212.90,70.05 L210.90,68.80 L208.90,70.05 L209.47,67.76 L207.67,66.25 L210.02,66.09Z" fill="#fff" stroke="#ff9a33" stroke-width="0.75" stroke-linejoin="miter"/>
<path d="M217.30,74.30 L218.18,76.49 L220.53,76.65 L218.73,78.16 L219.30,80.45 L217.30,79.20 L215.30,80.45 L215.87,78.16 L214.07,76.65 L216.42,76.49Z" fill="#fff" stroke="#ff9a33" stroke-width="0.75" stroke-linejoin="miter"/>
<path d="M220.50,85.50 L221.38,87.69 L223.73,87.85 L221.93,89.36 L222.50,91.65 L220.50,90.40 L218.50,91.65 L219.07,89.36 L217.27,87.85 L219.62,87.69Z" fill="#fff" stroke="#ff9a33" stroke-width="0.75" stroke-linejoin="miter"/>
<path d="M221.30,97.50 L222.18,99.69 L224.53,99.85 L222.73,101.36 L223.30,103.65 L221.30,102.40 L219.30,103.65 L219.87,101.36 L218.07,99.85 L220.42,99.69Z" fill="#fff" stroke="#ff9a33" stroke-width="0.75" stroke-linejoin="miter"/>
<path d="M215.70,109.60 L216.58,111.79 L218.93,111.95 L217.13,113.46 L217.70,115.75 L215.70,114.50 L213.70,115.75 L214.27,113.46 L212.47,111.95 L214.82,111.79Z" fill="#fff" stroke="#ff9a33" stroke-width="0.75" stroke-linejoin="miter"/>
<path d="M224.50,115.20 L225.38,117.39 L227.73,117.55 L225.93,119.06 L226.50,121.35 L224.50,120.10 L222.50,121.35 L223.07,119.06 L221.27,117.55 L223.62,117.39Z" fill="#fff" stroke="#ff9a33" stroke-width="0.75" stroke-linejoin="miter"/>
<path d="M230.10,123.20 L230.98,125.39 L233.33,125.55 L231.53,127.06 L232.10,129.35 L230.10,128.10 L228.10,129.35 L228.67,127.06 L226.87,125.55 L229.22,125.39Z" fill="#fff" stroke="#ff9a33" stroke-width="0.75" stroke-linejoin="miter"/>
<path d="M233.30,133.50 L234.18,135.69 L236.53,135.85 L234.73,137.36 L235.30,139.65 L233.30,138.40 L231.30,139.65 L231.87,137.36 L230.07,135.85 L232.42,135.69Z" fill="#fff" stroke="#ff9a33" stroke-width="0.75" stroke-linejoin="miter"/>
<path d="M234.50,144.20 L235.38,146.39 L237.73,146.55 L235.93,148.06 L236.50,150.35 L234.50,149.10 L232.50,150.35 L233.07,148.06 L231.27,146.55 L233.62,146.39Z" fill="#fff" stroke="#ff9a33" stroke-width="0.75" stroke-linejoin="miter"/>
<path d="M232.70,154.90 L233.58,157.09 L235.93,157.25 L234.13,158.76 L234.70,161.05 L232.70,159.80 L230.70,161.05 L231.27,158.76 L229.47,157.25 L231.82,157.09Z" fill="#fff" stroke="#ff9a33" stroke-width="0.75" stroke-linejoin="miter"/>
<path d="M227.00,164.70 L227.88,166.89 L230.23,167.05 L228.43,168.56 L229.00,170.85 L227.00,169.60 L225.00,170.85 L225.57,168.56 L223.77,167.05 L226.12,166.89Z" fill="#fff" stroke="#ff9a33" stroke-width="0.75" stroke-linejoin="miter"/>
<path d="M220.80,174.50 L221.68,176.69 L224.03,176.85 L222.23,178.36 L222.80,180.65 L220.80,179.40 L218.80,180.65 L219.37,178.36 L217.57,176.85 L219.92,176.69Z" fill="#fff" stroke="#ff9a33" stroke-width="0.75" stroke-linejoin="miter"/>
<path d="M211.90,183.40 L212.78,185.59 L215.13,185.75 L213.33,187.26 L213.90,189.55 L211.90,188.30 L209.90,189.55 L210.47,187.26 L208.67,185.75 L211.02,185.59Z" fill="#fff" stroke="#ff9a33" stroke-width="0.75" stroke-linejoin="miter"/>
<path d="M201.20,189.70 L202.08,191.89 L204.43,192.05 L202.63,193.56 L203.20,195.85 L201.20,194.60 L199.20,195.85 L199.77,193.56 L197.97,192.05 L200.32,191.89Z" fill="#fff" stroke="#ff9a33" stroke-width="0.75" stroke-linejoin="miter"/>
<path d="M189.60,193.20 L190.48,195.39 L192.83,195.55 L191.03,197.06 L191.60,199.35 L189.60,198.10 L187.60,199.35 L188.17,197.06 L186.37,195.55 L188.72,195.39Z" fill="#fff" stroke="#ff9a33" stroke-width="0.75" stroke-linejoin="miter"/>
<path d="M178.00,206.60 L178.88,208.79 L181.23,208.95 L179.43,210.46 L180.00,212.75 L178.00,211.50 L176.00,212.75 L176.57,210.46 L174.77,208.95 L177.12,208.79Z" fill="#fff" stroke="#ff9a33" stroke-width="0.75" stroke-linejoin="miter"/>
<path d="M163.30,205.20 L164.18,207.39 L166.53,207.55 L164.73,209.06 L165.30,211.35 L163.30,210.10 L161.30,211.35 L161.87,209.06 L160.07,207.55 L162.42,207.39Z" fill="#fff" stroke="#ff9a33" stroke-width="0.75" stroke-linejoin="miter"/>
<path d="M152.60,195.00 L153.48,197.19 L155.83,197.35 L154.03,198.86 L154.60,201.15 L152.60,199.90 L150.60,201.15 L151.17,198.86 L149.37,197.35 L151.72,197.19Z" fill="#fff" stroke="#ff9a33" stroke-width="0.75" stroke-linejoin="miter"/>
<path d="M141.00,189.70 L141.88,191.89 L144.23,192.05 L142.43,193.56 L143.00,195.85 L141.00,194.60 L139.00,195.85 L139.57,193.56 L137.77,192.05 L140.12,191.89Z" fill="#fff" stroke="#ff9a33" stroke-width="0.75" stroke-linejoin="miter"/>
<path d="M131.20,180.80 L132.08,182.99 L134.43,183.15 L132.63,184.66 L133.20,186.95 L131.20,185.70 L129.20,186.95 L129.77,184.66 L127.97,183.15 L130.32,182.99Z" fill="#fff" stroke="#ff9a33" stroke-width="0.75" stroke-linejoin="miter"/>
<path d="M123.20,170.10 L124.08,172.29 L126.43,172.45 L124.63,173.96 L125.20,176.25 L123.20,175.00 L121.20,176.25 L121.77,173.96 L119.97,172.45 L122.32,172.29Z" fill="#fff" stroke="#ff9a33" stroke-width="0.75" stroke-linejoin="miter"/>
<path d="M119.60,158.50 L120.48,160.69 L122.83,160.85 L121.03,162.36 L121.60,164.65 L119.60,163.40 L117.60,164.65 L118.17,162.36 L116.37,160.85 L118.72,160.69Z" fill="#fff" stroke="#ff9a33" stroke-width="0.75" stroke-linejoin="miter"/>
<path d="M117.80,146.90 L118.68,149.09 L121.03,149.25 L119.23,150.76 L119.80,153.05 L117.80,151.80 L115.80,153.05 L116.37,150.76 L114.57,149.25 L116.92,149.09Z" fill="#fff" stroke="#ff9a33" stroke-width="0.75" stroke-linejoin="miter"/>
<path d="M120.50,134.40 L121.38,136.59 L123.73,136.75 L121.93,138.26 L122.50,140.55 L120.50,139.30 L118.50,140.55 L119.07,138.26 L117.27,136.75 L119.62,136.59Z" fill="#fff" stroke="#ff9a33" stroke-width="0.75" stroke-linejoin="miter"/>
<path d="M125.80,125.50 L126.68,127.69 L129.03,127.85 L127.23,129.36 L127.80,131.65 L125.80,130.40 L123.80,131.65 L124.37,129.36 L122.57,127.85 L124.92,127.69Z" fill="#fff" stroke="#ff9a33" stroke-width="0.75" stroke-linejoin="miter"/>
<path d="M135.30,117.60 L136.18,119.79 L138.53,119.95 L136.73,121.46 L137.30,123.75 L135.30,122.50 L133.30,123.75 L133.87,121.46 L132.07,119.95 L134.42,119.79Z" fill="#fff" stroke="#ff9a33" stroke-width="0.75" stroke-linejoin="miter"/>
<path d="M132.90,109.60 L133.78,111.79 L136.13,111.95 L134.33,113.46 L134.90,115.75 L132.90,114.50 L130.90,115.75 L131.47,113.46 L129.67,111.95 L132.02,111.79Z" fill="#fff" stroke="#ff9a33" stroke-width="0.75" stroke-linejoin="miter"/>
<path d="M129.70,99.10 L130.58,101.29 L132.93,101.45 L131.13,102.96 L131.70,105.25 L129.70,104.00 L127.70,105.25 L128.27,102.96 L126.47,101.45 L128.82,101.29Z" fill="#fff" stroke="#ff9a33" stroke-width="0.75" stroke-linejoin="miter"/>
<path d="M131.30,87.90 L132.18,90.09 L134.53,90.25 L132.73,91.76 L133.30,94.05 L131.30,92.80 L129.30,94.05 L129.87,91.76 L128.07,90.25 L130.42,90.09Z" fill="#fff" stroke="#ff9a33" stroke-width="0.75" stroke-linejoin="miter"/>
<path d="M136.90,78.30 L137.78,80.49 L140.13,80.65 L138.33,82.16 L138.90,84.45 L136.90,83.20 L134.90,84.45 L135.47,82.16 L133.67,80.65 L136.02,80.49Z" fill="#fff" stroke="#ff9a33" stroke-width="0.75" stroke-linejoin="miter"/>
<path d="M138.50,63.10 L139.38,65.29 L141.73,65.45 L139.93,66.96 L140.50,69.25 L138.50,68.00 L136.50,69.25 L137.07,66.96 L135.27,65.45 L137.62,65.29Z" fill="#fff" stroke="#ff9a33" stroke-width="0.75" stroke-linejoin="miter"/>
<path d="M151.30,56.60 L152.18,58.79 L154.53,58.95 L152.73,60.46 L153.30,62.75 L151.30,61.50 L149.30,62.75 L149.87,60.46 L148.07,58.95 L150.42,58.79Z" fill="#fff" stroke="#ff9a33" stroke-width="0.75" stroke-linejoin="miter"/>
<path d="M164.10,51.80 L164.98,53.99 L167.33,54.15 L165.53,55.66 L166.10,57.95 L164.10,56.70 L162.10,57.95 L162.67,55.66 L160.87,54.15 L163.22,53.99Z" fill="#fff" stroke="#ff9a33" stroke-width="0.75" stroke-linejoin="miter"/>
<path d="M165.70,104.60 C166.23,103.53 167.30,102.12 168.90,101.40 C170.50,100.68 173.33,100.12 175.30,100.30 C177.27,100.48 178.20,101.42 180.70,102.50 C183.20,103.58 187.82,105.38 190.30,106.80 C192.78,108.22 194.18,109.67 195.60,111.00 C197.02,112.33 197.20,113.90 198.80,114.80 C200.40,115.70 202.88,115.60 205.20,116.40 C207.52,117.20 211.00,118.72 212.70,119.60 C214.40,120.48 215.75,120.72 215.40,121.70 C215.05,122.68 212.65,124.33 210.60,125.50 C208.55,126.67 205.60,127.90 203.10,128.70 C200.60,129.50 197.92,129.50 195.60,130.30 C193.28,131.10 190.98,132.25 189.20,133.50 C187.42,134.75 185.97,136.20 184.90,137.80 C183.83,139.40 183.68,141.50 182.80,143.10 C181.92,144.70 180.67,146.50 179.60,147.40 C178.53,148.30 177.57,148.42 176.40,148.50 C175.23,148.58 173.67,148.62 172.60,147.90 C171.53,147.18 170.62,145.88 170.00,144.20 C169.38,142.52 168.90,139.58 168.90,137.80 C168.90,136.02 169.65,134.75 170.00,133.50 C170.35,132.25 171.90,130.83 171.00,130.30 C170.10,129.77 165.93,130.67 164.60,130.30 C163.27,129.93 162.82,128.73 163.00,128.10 C163.18,127.47 164.00,126.85 165.70,126.50 C167.40,126.15 172.48,127.33 173.20,126.00 C173.92,124.67 171.07,120.82 170.00,118.50 C168.93,116.18 167.52,113.88 166.80,112.10 C166.08,110.32 165.88,109.05 165.70,107.80 C165.52,106.55 165.17,105.67 165.70,104.60Z" fill="none" stroke="#840000" stroke-width="2.6" stroke-linejoin="round"/>
<path d="M171.60,103.00 C173.02,102.37 174.38,101.03 175.80,101.40 C177.22,101.77 178.58,104.93 180.10,105.20 C181.62,105.47 183.47,102.92 184.90,103.00 C186.33,103.08 187.53,104.80 188.70,105.70 C189.87,106.60 190.78,107.52 191.90,108.40 C193.02,109.28 194.07,110.20 195.40,111.00 C196.73,111.80 199.42,111.85 199.90,113.20 C200.38,114.55 197.05,117.77 198.30,119.10 C199.55,120.43 206.78,119.87 207.40,121.20 C208.02,122.53 204.50,125.58 202.00,127.10 C199.50,128.62 195.07,129.63 192.40,130.30 C189.73,130.97 187.95,130.83 186.00,131.10 C184.05,131.37 182.67,132.03 180.70,131.90 C178.73,131.77 175.98,130.57 174.20,130.30 C172.42,130.03 170.53,129.23 170.00,130.30 C169.47,131.37 170.65,134.92 171.00,136.70 C171.35,138.48 171.65,139.13 172.10,141.00 C172.55,142.87 172.90,146.65 173.70,147.90 C174.50,149.15 176.18,150.55 176.90,148.50 C177.62,146.45 178.27,139.27 178.00,135.60 C177.73,131.93 177.17,130.60 175.30,126.50 C173.43,122.40 168.13,114.55 166.80,111.00 C165.47,107.45 166.50,106.53 167.30,105.20 C168.10,103.87 170.18,103.63 171.60,103.00Z" fill="none" stroke="#840000" stroke-width="1.4" stroke-linejoin="round"/>
<circle cx="171.60" cy="103.00" r="2.0" fill="#fff" stroke="#840000" stroke-width="1.0"/>
<circle cx="175.80" cy="101.40" r="2.0" fill="#fff" stroke="#840000" stroke-width="1.0"/>
<circle cx="180.10" cy="105.20" r="2.0" fill="#fff" stroke="#840000" stroke-width="1.0"/>
<circle cx="184.90" cy="103.00" r="2.0" fill="#fff" stroke="#840000" stroke-width="1.0"/>
<circle cx="188.70" cy="105.70" r="2.0" fill="#fff" stroke="#840000" stroke-width="1.0"/>
<circle cx="191.90" cy="108.40" r="2.0" fill="#fff" stroke="#840000" stroke-width="1.0"/>
<circle cx="195.40" cy="111.00" r="2.0" fill="#fff" stroke="#840000" stroke-width="1.0"/>
<circle cx="199.90" cy="113.20" r="2.0" fill="#fff" stroke="#840000" stroke-width="1.0"/>
<circle cx="198.30" cy="119.10" r="2.0" fill="#fff" stroke="#840000" stroke-width="1.0"/>
<circle cx="207.40" cy="121.20" r="2.0" fill="#fff" stroke="#840000" stroke-width="1.0"/>
<circle cx="202.00" cy="127.10" r="2.0" fill="#fff" stroke="#840000" stroke-width="1.0"/>
<circle cx="192.40" cy="130.30" r="2.0" fill="#fff" stroke="#840000" stroke-width="1.0"/>
<circle cx="186.00" cy="131.10" r="2.0" fill="#fff" stroke="#840000" stroke-width="1.0"/>
<circle cx="180.70" cy="131.90" r="2.0" fill="#fff" stroke="#840000" stroke-width="1.0"/>
<circle cx="174.20" cy="130.30" r="2.0" fill="#fff" stroke="#840000" stroke-width="1.0"/>
<circle cx="170.00" cy="130.30" r="2.0" fill="#fff" stroke="#840000" stroke-width="1.0"/>
<circle cx="171.00" cy="136.70" r="2.0" fill="#fff" stroke="#840000" stroke-width="1.0"/>
<circle cx="172.10" cy="141.00" r="2.0" fill="#fff" stroke="#840000" stroke-width="1.0"/>
<circle cx="173.70" cy="147.90" r="2.0" fill="#fff" stroke="#840000" stroke-width="1.0"/>
<circle cx="176.90" cy="148.50" r="2.0" fill="#fff" stroke="#840000" stroke-width="1.0"/>
<circle cx="178.00" cy="135.60" r="2.0" fill="#fff" stroke="#840000" stroke-width="1.0"/>
<circle cx="175.30" cy="126.50" r="2.0" fill="#fff" stroke="#840000" stroke-width="1.0"/>
<circle cx="166.80" cy="111.00" r="2.0" fill="#fff" stroke="#840000" stroke-width="1.0"/>
<circle cx="167.30" cy="105.20" r="2.0" fill="#fff" stroke="#840000" stroke-width="1.0"/>
<path d="M166.3,108.5 L170.5,118.5 L174,126" fill="none" stroke="#840000" stroke-width="3.6" stroke-linecap="round"/>
<path d="M518.70,45.60 C522.77,45.73 527.70,47.73 531.10,48.00 C534.50,48.27 536.70,47.07 539.10,47.20 C541.50,47.33 542.30,47.60 545.50,48.80 C548.70,50.00 554.15,52.12 558.30,54.40 C562.45,56.68 566.78,59.42 570.40,62.50 C574.02,65.58 577.73,69.97 580.00,72.90 C582.27,75.83 582.27,77.02 584.00,80.10 C585.73,83.18 588.52,87.38 590.40,91.40 C592.28,95.42 594.08,100.20 595.30,104.20 C596.52,108.20 597.17,111.65 597.70,115.40 C598.23,119.15 598.60,121.98 598.50,126.70 C598.40,131.42 598.05,138.62 597.10,143.70 C596.15,148.78 594.63,152.68 592.80,157.20 C590.97,161.72 588.92,166.57 586.10,170.80 C583.28,175.03 579.57,178.93 575.90,182.60 C572.23,186.27 568.62,189.70 564.10,192.80 C559.58,195.90 554.17,198.95 548.80,201.20 C543.43,203.45 536.73,205.17 531.90,206.30 C527.07,207.43 523.52,207.72 519.80,208.00 C516.08,208.28 513.00,208.43 509.60,208.00 C506.20,207.57 503.07,206.38 499.40,205.40 C495.73,204.42 491.82,203.92 487.60,202.10 C483.38,200.28 478.33,197.47 474.10,194.50 C469.87,191.53 465.73,187.97 462.20,184.30 C458.67,180.63 455.72,176.73 452.90,172.50 C450.08,168.27 447.42,163.42 445.30,158.90 C443.18,154.38 441.47,150.18 440.20,145.40 C438.93,140.62 438.08,134.43 437.70,130.20 C437.32,125.97 437.77,122.73 437.90,120.00 C438.03,117.27 438.00,116.97 438.50,113.80 C439.00,110.63 439.57,105.55 440.90,101.00 C442.23,96.45 444.10,91.05 446.50,86.50 C448.90,81.95 451.97,77.43 455.30,73.70 C458.63,69.97 462.48,67.05 466.50,64.10 C470.52,61.15 475.12,58.28 479.40,56.00 C483.68,53.72 487.65,51.87 492.20,50.40 C496.75,48.93 502.28,48.00 506.70,47.20 C511.12,46.40 514.63,45.47 518.70,45.60Z" fill="none" stroke="#ff8000" stroke-width="2.4" stroke-linejoin="round"/>
<path d="M518.72,47.20 L519.73,47.27 L520.77,47.41 L521.83,47.59 L522.90,47.82 L523.97,48.08 L525.04,48.35 L526.09,48.62 L527.12,48.88 L528.12,49.12 L529.08,49.33 L530.00,49.48 L530.86,49.58 L531.67,49.62 L532.44,49.60 L533.17,49.54 L533.86,49.45 L534.52,49.34 L535.15,49.22 L535.77,49.09 L536.37,48.97 L536.96,48.87 L537.55,48.79 L538.13,48.75 L538.71,48.75 L539.27,48.79 L539.78,48.83 L540.25,48.88 L540.69,48.95 L541.12,49.03 L541.56,49.14 L542.01,49.26 L542.49,49.41 L543.02,49.59 L543.60,49.80 L544.25,50.04 L544.99,50.32 L545.82,50.63 L546.72,50.98 L547.70,51.36 L548.73,51.77 L549.81,52.20 L550.91,52.66 L552.04,53.15 L553.17,53.65 L554.30,54.17 L555.41,54.70 L556.50,55.25 L557.54,55.81 L558.56,56.38 L559.58,56.96 L560.61,57.57 L561.63,58.19 L562.65,58.83 L563.66,59.48 L564.67,60.15 L565.65,60.84 L566.62,61.55 L567.57,62.26 L568.50,63.00 L569.40,63.75 L570.29,64.53 L571.17,65.35 L572.05,66.21 L572.92,67.10 L573.77,68.00 L574.59,68.91 L575.39,69.81 L576.16,70.70 L576.89,71.57 M518.90,206.47 L518.02,206.53 L517.16,206.58 L516.32,206.62 L515.49,206.65 L514.68,206.67 L513.87,206.67 L513.06,206.66 L512.25,206.63 L511.44,206.58 L510.62,206.51 L509.79,206.41 L508.96,206.29 L508.14,206.14 L507.33,205.97 L506.52,205.77 L505.70,205.56 L504.89,205.33 L504.07,205.09 L503.24,204.85 L502.40,204.60 L501.55,204.34 L500.68,204.09 L499.79,203.85 L498.89,203.62 L497.97,203.40 L497.05,203.19 L496.11,202.98 L495.17,202.77 L494.21,202.54 L493.24,202.30 L492.26,202.04 L491.27,201.74 L490.26,201.41 L489.25,201.04 L488.22,200.62 L487.17,200.16 L486.09,199.65 L484.99,199.12 L483.87,198.54 L482.74,197.94 L481.61,197.32 L480.47,196.67 L479.34,196.00 L478.22,195.31 L477.12,194.61 L476.04,193.89 L474.98,193.17 L473.95,192.43 L472.92,191.66 L471.90,190.88 L470.88,190.08 L469.88,189.26 L468.89,188.42 L467.92,187.57 L466.96,186.70 L466.02,185.83 L465.10,184.95 L464.20,184.05 L463.32,183.16 L462.47,182.25 L461.64,181.34 L460.82,180.42 L460.03,179.48 L459.26,178.54 L458.50,177.58 L457.76,176.61 L457.03,175.63 L456.31,174.64 L455.60,173.63 L454.90,172.61 L454.21,171.58 L453.52,170.53 L452.85,169.46 L452.18,168.37 M483.30,55.79 L484.32,55.29 L485.35,54.81 L486.37,54.35 L487.40,53.90 L488.44,53.47 L489.49,53.05 L490.56,52.65 L491.64,52.27 L492.74,51.90 L493.88,51.56 L495.05,51.23 L496.24,50.92 L497.45,50.63 L498.67,50.36 L499.90,50.10 L501.13,49.85 L502.34,49.62 L503.54,49.40 L504.71,49.18 L505.85,48.98 L506.96,48.78 L508.02,48.58 L509.05,48.38 L510.06,48.18 L511.04,47.99 L512.01,47.81 L512.96,47.64 L513.91,47.50 L514.86,47.37 L515.81,47.28 L516.76,47.22 L517.73,47.19 " fill="none" stroke="#ff8000" stroke-width="2.4" stroke-linejoin="round" stroke-linecap="round"/>
<path d="M518.70,46.40 L531.10,48.00 L539.10,47.20 L545.50,48.80 L558.30,54.40 L570.40,62.50 L580.00,72.90 L577.60,76.10 L583.20,86.50 L580.80,89.80 L585.60,100.20 L588.80,112.20 L590.60,124.60 L589.50,136.90 L587.40,148.80 L582.70,160.60 L575.90,170.80 L573.40,175.80 L568.30,180.90 L558.10,189.40 L555.60,192.80 L547.10,197.80 L540.40,201.20 L534.50,202.90 L521.80,204.60 L516.40,207.10 L506.20,208.00 L503.70,202.90 L496.10,201.20 L492.70,202.10 L479.10,196.10 L468.10,188.50 L458.00,178.40 L450.40,165.70 L445.30,153.00 L441.10,141.20 L438.50,126.80 L443.80,113.80 L448.10,101.00 L452.90,88.20 L460.10,77.70 L469.00,67.30 L479.40,58.90 L491.40,52.80 L504.30,48.80Z" fill="none" stroke="#ff8000" stroke-width="1.7" stroke-linejoin="round"/>
<path d="M518.70,43.00 L519.58,45.19 L521.93,45.35 L520.13,46.86 L520.70,49.15 L518.70,47.90 L516.70,49.15 L517.27,46.86 L515.47,45.35 L517.82,45.19Z" fill="#fff" stroke="#ff9a33" stroke-width="0.75" stroke-linejoin="miter"/>
<path d="M531.10,44.60 L531.98,46.79 L534.33,46.95 L532.53,48.46 L533.10,50.75 L531.10,49.50 L529.10,50.75 L529.67,48.46 L527.87,46.95 L530.22,46.79Z" fill="#fff" stroke="#ff9a33" stroke-width="0.75" stroke-linejoin="miter"/>
<path d="M545.50,45.40 L546.38,47.59 L548.73,47.75 L546.93,49.26 L547.50,51.55 L545.50,50.30 L543.50,51.55 L544.07,49.26 L542.27,47.75 L544.62,47.59Z" fill="#fff" stroke="#ff9a33" stroke-width="0.75" stroke-linejoin="miter"/>
<path d="M558.30,51.00 L559.18,53.19 L561.53,53.35 L559.73,54.86 L560.30,57.15 L558.30,55.90 L556.30,57.15 L556.87,54.86 L555.07,53.35 L557.42,53.19Z" fill="#fff" stroke="#ff9a33" stroke-width="0.75" stroke-linejoin="miter"/>
<path d="M570.40,59.10 L571.28,61.29 L573.63,61.45 L571.83,62.96 L572.40,65.25 L570.40,64.00 L568.40,65.25 L568.97,62.96 L567.17,61.45 L569.52,61.29Z" fill="#fff" stroke="#ff9a33" stroke-width="0.75" stroke-linejoin="miter"/>
<path d="M580.00,69.50 L580.88,71.69 L583.23,71.85 L581.43,73.36 L582.00,75.65 L580.00,74.40 L578.00,75.65 L578.57,73.36 L576.77,71.85 L579.12,71.69Z" fill="#fff" stroke="#ff9a33" stroke-width="0.75" stroke-linejoin="miter"/>
<path d="M583.20,83.10 L584.08,85.29 L586.43,85.45 L584.63,86.96 L585.20,89.25 L583.20,88.00 L581.20,89.25 L581.77,86.96 L579.97,85.45 L582.32,85.29Z" fill="#fff" stroke="#ff9a33" stroke-width="0.75" stroke-linejoin="miter"/>
<path d="M585.60,96.80 L586.48,98.99 L588.83,99.15 L587.03,100.66 L587.60,102.95 L585.60,101.70 L583.60,102.95 L584.17,100.66 L582.37,99.15 L584.72,98.99Z" fill="#fff" stroke="#ff9a33" stroke-width="0.75" stroke-linejoin="miter"/>
<path d="M588.80,108.80 L589.68,110.99 L592.03,111.15 L590.23,112.66 L590.80,114.95 L588.80,113.70 L586.80,114.95 L587.37,112.66 L585.57,111.15 L587.92,110.99Z" fill="#fff" stroke="#ff9a33" stroke-width="0.75" stroke-linejoin="miter"/>
<path d="M590.60,121.20 L591.48,123.39 L593.83,123.55 L592.03,125.06 L592.60,127.35 L590.60,126.10 L588.60,127.35 L589.17,125.06 L587.37,123.55 L589.72,123.39Z" fill="#fff" stroke="#ff9a33" stroke-width="0.75" stroke-linejoin="miter"/>
<path d="M589.50,133.50 L590.38,135.69 L592.73,135.85 L590.93,137.36 L591.50,139.65 L589.50,138.40 L587.50,139.65 L588.07,137.36 L586.27,135.85 L588.62,135.69Z" fill="#fff" stroke="#ff9a33" stroke-width="0.75" stroke-linejoin="miter"/>
<path d="M587.40,145.40 L588.28,147.59 L590.63,147.75 L588.83,149.26 L589.40,151.55 L587.40,150.30 L585.40,151.55 L585.97,149.26 L584.17,147.75 L586.52,147.59Z" fill="#fff" stroke="#ff9a33" stroke-width="0.75" stroke-linejoin="miter"/>
<path d="M582.70,157.20 L583.58,159.39 L585.93,159.55 L584.13,161.06 L584.70,163.35 L582.70,162.10 L580.70,163.35 L581.27,161.06 L579.47,159.55 L581.82,159.39Z" fill="#fff" stroke="#ff9a33" stroke-width="0.75" stroke-linejoin="miter"/>
<path d="M575.90,167.40 L576.78,169.59 L579.13,169.75 L577.33,171.26 L577.90,173.55 L575.90,172.30 L573.90,173.55 L574.47,171.26 L572.67,169.75 L575.02,169.59Z" fill="#fff" stroke="#ff9a33" stroke-width="0.75" stroke-linejoin="miter"/>
<path d="M568.30,177.50 L569.18,179.69 L571.53,179.85 L569.73,181.36 L570.30,183.65 L568.30,182.40 L566.30,183.65 L566.87,181.36 L565.07,179.85 L567.42,179.69Z" fill="#fff" stroke="#ff9a33" stroke-width="0.75" stroke-linejoin="miter"/>
<path d="M558.10,186.00 L558.98,188.19 L561.33,188.35 L559.53,189.86 L560.10,192.15 L558.10,190.90 L556.10,192.15 L556.67,189.86 L554.87,188.35 L557.22,188.19Z" fill="#fff" stroke="#ff9a33" stroke-width="0.75" stroke-linejoin="miter"/>
<path d="M547.10,194.40 L547.98,196.59 L550.33,196.75 L548.53,198.26 L549.10,200.55 L547.10,199.30 L545.10,200.55 L545.67,198.26 L543.87,196.75 L546.22,196.59Z" fill="#fff" stroke="#ff9a33" stroke-width="0.75" stroke-linejoin="miter"/>
<path d="M534.50,199.50 L535.38,201.69 L537.73,201.85 L535.93,203.36 L536.50,205.65 L534.50,204.40 L532.50,205.65 L533.07,203.36 L531.27,201.85 L533.62,201.69Z" fill="#fff" stroke="#ff9a33" stroke-width="0.75" stroke-linejoin="miter"/>
<path d="M521.80,201.20 L522.68,203.39 L525.03,203.55 L523.23,205.06 L523.80,207.35 L521.80,206.10 L519.80,207.35 L520.37,205.06 L518.57,203.55 L520.92,203.39Z" fill="#fff" stroke="#ff9a33" stroke-width="0.75" stroke-linejoin="miter"/>
<path d="M506.20,204.60 L507.08,206.79 L509.43,206.95 L507.63,208.46 L508.20,210.75 L506.20,209.50 L504.20,210.75 L504.77,208.46 L502.97,206.95 L505.32,206.79Z" fill="#fff" stroke="#ff9a33" stroke-width="0.75" stroke-linejoin="miter"/>
<path d="M492.70,198.70 L493.58,200.89 L495.93,201.05 L494.13,202.56 L494.70,204.85 L492.70,203.60 L490.70,204.85 L491.27,202.56 L489.47,201.05 L491.82,200.89Z" fill="#fff" stroke="#ff9a33" stroke-width="0.75" stroke-linejoin="miter"/>
<path d="M479.10,192.70 L479.98,194.89 L482.33,195.05 L480.53,196.56 L481.10,198.85 L479.10,197.60 L477.10,198.85 L477.67,196.56 L475.87,195.05 L478.22,194.89Z" fill="#fff" stroke="#ff9a33" stroke-width="0.75" stroke-linejoin="miter"/>
<path d="M468.10,185.10 L468.98,187.29 L471.33,187.45 L469.53,188.96 L470.10,191.25 L468.10,190.00 L466.10,191.25 L466.67,188.96 L464.87,187.45 L467.22,187.29Z" fill="#fff" stroke="#ff9a33" stroke-width="0.75" stroke-linejoin="miter"/>
<path d="M458.00,175.00 L458.88,177.19 L461.23,177.35 L459.43,178.86 L460.00,181.15 L458.00,179.90 L456.00,181.15 L456.57,178.86 L454.77,177.35 L457.12,177.19Z" fill="#fff" stroke="#ff9a33" stroke-width="0.75" stroke-linejoin="miter"/>
<path d="M445.30,149.60 L446.18,151.79 L448.53,151.95 L446.73,153.46 L447.30,155.75 L445.30,154.50 L443.30,155.75 L443.87,153.46 L442.07,151.95 L444.42,151.79Z" fill="#fff" stroke="#ff9a33" stroke-width="0.75" stroke-linejoin="miter"/>
<path d="M441.10,137.80 L441.98,139.99 L444.33,140.15 L442.53,141.66 L443.10,143.95 L441.10,142.70 L439.10,143.95 L439.67,141.66 L437.87,140.15 L440.22,139.99Z" fill="#fff" stroke="#ff9a33" stroke-width="0.75" stroke-linejoin="miter"/>
<path d="M438.50,123.40 L439.38,125.59 L441.73,125.75 L439.93,127.26 L440.50,129.55 L438.50,128.30 L436.50,129.55 L437.07,127.26 L435.27,125.75 L437.62,125.59Z" fill="#fff" stroke="#ff9a33" stroke-width="0.75" stroke-linejoin="miter"/>
<path d="M443.80,110.40 L444.68,112.59 L447.03,112.75 L445.23,114.26 L445.80,116.55 L443.80,115.30 L441.80,116.55 L442.37,114.26 L440.57,112.75 L442.92,112.59Z" fill="#fff" stroke="#ff9a33" stroke-width="0.75" stroke-linejoin="miter"/>
<path d="M448.10,97.60 L448.98,99.79 L451.33,99.95 L449.53,101.46 L450.10,103.75 L448.10,102.50 L446.10,103.75 L446.67,101.46 L444.87,99.95 L447.22,99.79Z" fill="#fff" stroke="#ff9a33" stroke-width="0.75" stroke-linejoin="miter"/>
<path d="M452.90,84.80 L453.78,86.99 L456.13,87.15 L454.33,88.66 L454.90,90.95 L452.90,89.70 L450.90,90.95 L451.47,88.66 L449.67,87.15 L452.02,86.99Z" fill="#fff" stroke="#ff9a33" stroke-width="0.75" stroke-linejoin="miter"/>
<path d="M460.10,74.30 L460.98,76.49 L463.33,76.65 L461.53,78.16 L462.10,80.45 L460.10,79.20 L458.10,80.45 L458.67,78.16 L456.87,76.65 L459.22,76.49Z" fill="#fff" stroke="#ff9a33" stroke-width="0.75" stroke-linejoin="miter"/>
<path d="M469.00,63.90 L469.88,66.09 L472.23,66.25 L470.43,67.76 L471.00,70.05 L469.00,68.80 L467.00,70.05 L467.57,67.76 L465.77,66.25 L468.12,66.09Z" fill="#fff" stroke="#ff9a33" stroke-width="0.75" stroke-linejoin="miter"/>
<path d="M479.40,55.50 L480.28,57.69 L482.63,57.85 L480.83,59.36 L481.40,61.65 L479.40,60.40 L477.40,61.65 L477.97,59.36 L476.17,57.85 L478.52,57.69Z" fill="#fff" stroke="#ff9a33" stroke-width="0.75" stroke-linejoin="miter"/>
<path d="M491.40,49.40 L492.28,51.59 L494.63,51.75 L492.83,53.26 L493.40,55.55 L491.40,54.30 L489.40,55.55 L489.97,53.26 L488.17,51.75 L490.52,51.59Z" fill="#fff" stroke="#ff9a33" stroke-width="0.75" stroke-linejoin="miter"/>
<path d="M504.30,45.40 L505.18,47.59 L507.53,47.75 L505.73,49.26 L506.30,51.55 L504.30,50.30 L502.30,51.55 L502.87,49.26 L501.07,47.75 L503.42,47.59Z" fill="#fff" stroke="#ff9a33" stroke-width="0.75" stroke-linejoin="miter"/>
<path d="M489.30,138.50 C489.98,137.33 492.05,134.83 494.00,132.70 C495.95,130.57 498.67,127.45 501.00,125.70 C503.33,123.95 505.67,122.98 508.00,122.20 C510.33,121.42 513.43,121.97 515.00,121.00 C516.57,120.03 516.23,117.67 517.40,116.40 C518.57,115.13 520.07,114.08 522.00,113.40 C523.93,112.72 526.27,112.00 529.00,112.30 C531.73,112.60 535.28,113.85 538.40,115.20 C541.52,116.55 545.57,118.85 547.70,120.40 C549.83,121.95 551.00,123.03 551.20,124.50 C551.40,125.97 550.65,127.63 548.90,129.20 C547.15,130.77 543.62,132.53 540.70,133.90 C537.78,135.27 534.12,136.43 531.40,137.40 C528.68,138.37 526.73,139.02 524.40,139.70 C522.07,140.38 519.35,141.40 517.40,141.50 C515.45,141.60 515.03,140.40 512.70,140.30 C510.37,140.20 506.52,140.80 503.40,140.90 C500.28,141.00 496.25,141.10 494.00,140.90 C491.75,140.70 490.68,140.10 489.90,139.70 C489.12,139.30 488.62,139.67 489.30,138.50Z" fill="none" stroke="#840000" stroke-width="2.1" stroke-linejoin="round"/>
<path d="M496.90,133.90 C497.20,132.33 500.85,129.37 502.80,128.00 C504.75,126.63 506.37,126.18 508.60,125.70 C510.83,125.22 514.45,125.98 516.20,125.10 C517.95,124.22 518.13,121.67 519.10,120.40 C520.07,119.13 520.63,118.17 522.00,117.50 C523.37,116.83 525.35,116.40 527.30,116.40 C529.25,116.40 531.85,116.63 533.70,117.50 C535.55,118.37 536.93,120.33 538.40,121.60 C539.87,122.87 542.60,123.93 542.50,125.10 C542.40,126.27 539.65,127.72 537.80,128.60 C535.95,129.48 533.63,130.10 531.40,130.40 C529.17,130.70 526.55,130.12 524.40,130.40 C522.25,130.68 519.28,130.93 518.50,132.10 C517.72,133.27 520.37,136.92 519.70,137.40 C519.03,137.88 516.55,135.40 514.50,135.00 C512.45,134.60 509.65,134.60 507.40,135.00 C505.15,135.40 502.75,137.58 501.00,137.40 C499.25,137.22 496.60,135.47 496.90,133.90Z" fill="none" stroke="#840000" stroke-width="1.4" stroke-linejoin="round"/>
<circle cx="496.90" cy="133.90" r="1.7" fill="#fff" stroke="#840000" stroke-width="1.0"/>
<circle cx="502.80" cy="128.00" r="1.7" fill="#fff" stroke="#840000" stroke-width="1.0"/>
<circle cx="508.60" cy="125.70" r="1.7" fill="#fff" stroke="#840000" stroke-width="1.0"/>
<circle cx="516.20" cy="125.10" r="1.7" fill="#fff" stroke="#840000" stroke-width="1.0"/>
<circle cx="519.10" cy="120.40" r="1.7" fill="#fff" stroke="#840000" stroke-width="1.0"/>
<circle cx="522.00" cy="117.50" r="1.7" fill="#fff" stroke="#840000" stroke-width="1.0"/>
<circle cx="527.30" cy="116.40" r="1.7" fill="#fff" stroke="#840000" stroke-width="1.0"/>
<circle cx="533.70" cy="117.50" r="1.7" fill="#fff" stroke="#840000" stroke-width="1.0"/>
<circle cx="538.40" cy="121.60" r="1.7" fill="#fff" stroke="#840000" stroke-width="1.0"/>
<circle cx="542.50" cy="125.10" r="1.7" fill="#fff" stroke="#840000" stroke-width="1.0"/>
<circle cx="537.80" cy="128.60" r="1.7" fill="#fff" stroke="#840000" stroke-width="1.0"/>
<circle cx="531.40" cy="130.40" r="1.7" fill="#fff" stroke="#840000" stroke-width="1.0"/>
<circle cx="524.40" cy="130.40" r="1.7" fill="#fff" stroke="#840000" stroke-width="1.0"/>
<circle cx="518.50" cy="132.10" r="1.7" fill="#fff" stroke="#840000" stroke-width="1.0"/>
<circle cx="519.70" cy="137.40" r="1.7" fill="#fff" stroke="#840000" stroke-width="1.0"/>
<circle cx="514.50" cy="135.00" r="1.7" fill="#fff" stroke="#840000" stroke-width="1.0"/>
<circle cx="507.40" cy="135.00" r="1.7" fill="#fff" stroke="#840000" stroke-width="1.0"/>
<circle cx="501.00" cy="137.40" r="1.7" fill="#fff" stroke="#840000" stroke-width="1.0"/>
<path d="M178.60,327.20 C182.27,328.20 186.78,332.00 189.40,332.80 C192.02,333.60 192.55,331.60 194.30,332.00 C196.05,332.40 198.17,333.60 199.90,335.20 C201.63,336.80 203.63,339.65 204.70,341.60 C205.77,343.55 205.90,344.68 206.30,346.90 C206.70,349.12 206.83,352.77 207.10,354.90 C207.37,357.03 207.50,358.32 207.90,359.70 C208.30,361.08 208.43,362.62 209.50,363.20 C210.57,363.78 212.03,362.78 214.30,363.20 C216.57,363.62 220.28,364.67 223.10,365.70 C225.92,366.73 228.12,367.75 231.20,369.40 C234.28,371.05 238.77,373.20 241.57,375.58 C244.37,377.96 246.39,380.72 247.99,383.69 C249.60,386.66 250.40,390.20 251.20,393.40 C252.00,396.60 252.80,399.15 252.79,402.90 C252.79,406.66 252.11,411.61 251.16,415.94 C250.22,420.27 249.00,424.56 247.11,428.87 C245.22,433.18 242.67,437.75 239.82,441.80 C236.97,445.86 233.53,449.96 230.01,453.21 C226.49,456.46 222.74,458.87 218.70,461.29 C214.65,463.72 210.36,466.27 205.76,467.76 C201.17,469.24 195.74,469.82 191.11,470.19 C186.49,470.57 182.02,470.12 178.00,470.00 C173.98,469.88 170.83,470.53 167.00,469.50 C163.17,468.47 158.75,465.97 155.00,463.80 C151.25,461.63 147.75,459.22 144.50,456.50 C141.25,453.78 138.03,450.75 135.50,447.50 C132.97,444.25 130.52,440.30 129.30,437.00 C128.08,433.70 128.30,430.68 128.20,427.70 C128.10,424.72 128.27,421.77 128.70,419.10 C129.13,416.43 129.92,414.00 130.80,411.70 C131.68,409.40 133.10,407.35 134.00,405.30 C134.90,403.25 136.47,401.18 136.20,399.40 C135.93,397.62 133.92,396.47 132.40,394.60 C130.88,392.73 128.70,390.52 127.10,388.20 C125.50,385.88 123.70,383.40 122.80,380.70 C121.90,378.00 121.75,374.70 121.70,372.00 C121.65,369.30 121.57,367.62 122.50,364.50 C123.43,361.38 125.17,356.77 127.30,353.30 C129.43,349.83 132.37,346.77 135.30,343.70 C138.23,340.63 141.42,337.30 144.90,334.90 C148.38,332.50 152.45,330.65 156.20,329.30 C159.95,327.95 163.67,327.15 167.40,326.80 C171.13,326.45 174.93,326.20 178.60,327.20Z" fill="none" stroke="#ff8000" stroke-width="2.4" stroke-linejoin="round"/>
<path d="M178.63,328.80 L179.54,329.10 L180.48,329.51 L181.43,329.98 L182.39,330.52 L183.34,331.09 L184.28,331.67 L185.20,332.25 L186.09,332.81 L186.94,333.32 L187.74,333.76 L188.48,334.12 L189.16,334.38 L189.75,334.52 L190.28,334.57 L190.74,334.53 L191.15,334.43 L191.52,334.29 L191.86,334.12 L192.19,333.94 L192.51,333.77 L192.83,333.63 L193.17,333.54 L193.53,333.51 L193.94,333.56 L194.37,333.67 L194.82,333.82 L195.27,333.99 L195.73,334.20 L196.20,334.43 L196.67,334.69 L197.14,334.97 L197.60,335.28 L198.06,335.61 L198.51,335.96 L198.96,336.33 L199.38,336.71 L199.81,337.13 L200.24,337.60 L200.67,338.10 L201.10,338.63 L201.53,339.18 L201.95,339.75 L202.35,340.32 L202.73,340.90 L203.09,341.46 L203.43,342.02 L203.74,342.55 L204.01,343.04 L204.25,343.51 L204.45,343.95 L204.63,344.37 L204.77,344.77 L204.90,345.17 L205.01,345.57 L205.10,345.97 L205.19,346.39 L205.27,346.82 L205.35,347.28 L205.43,347.77 L205.51,348.29 L205.60,348.87 L205.67,349.50 L205.74,350.16 L205.80,350.85 L205.85,351.57 L205.90,352.29 L205.94,353.00 L205.99,353.71 L206.03,354.39 L206.08,355.04 L206.13,355.65 L206.18,356.21 L206.24,356.72 L206.29,357.20 L206.33,357.65 L206.38,358.07 L206.43,358.47 L206.48,358.85 L206.53,359.22 L206.59,359.57 L206.65,359.92 L206.72,360.26 L206.79,360.60 L206.88,360.93 L206.97,361.28 L207.05,361.62 L207.13,361.96 L207.20,362.30 L207.29,362.63 L207.38,362.94 L207.49,363.24 L207.62,363.52 L207.76,363.77 L207.94,364.00 L208.14,364.19 L208.38,364.35 L208.65,364.45 L208.94,364.51 L209.24,364.51 L209.57,364.49 L209.92,364.44 L210.30,364.37 L210.70,364.30 L211.12,364.24 L211.57,364.19 L212.05,364.18 L212.56,364.19 L213.10,364.26 L213.69,364.36 L214.32,364.49 L215.00,364.64 L215.72,364.81 L216.46,364.99 L217.22,365.19 L217.99,365.40 L218.77,365.62 L219.54,365.85 L220.30,366.08 L221.04,366.32 L221.76,366.57 L222.44,366.81 L223.10,367.06 L223.75,367.30 L224.39,367.56 M166.32,467.64 L165.35,467.30 L164.37,466.91 L163.37,466.48 L162.37,466.02 L161.37,465.53 L160.37,465.01 L159.37,464.47 L158.39,463.93 L157.42,463.38 L156.46,462.83 L155.54,462.29 L154.63,461.75 L153.72,461.20 L152.83,460.64 L151.95,460.07 L151.08,459.49 L150.23,458.90 L149.38,458.30 L148.54,457.68 L147.71,457.06 L146.89,456.42 L146.08,455.77 L145.29,455.11 L144.49,454.43 L143.71,453.75 L142.92,453.05 L142.15,452.34 L141.39,451.61 L140.64,450.88 L139.90,450.14 L139.18,449.38 L138.48,448.62 L137.80,447.84 L137.15,447.06 L136.52,446.27 L135.90,445.45 L135.30,444.62 L134.70,443.76 L134.13,442.89 L133.57,442.01 L133.03,441.13 L132.52,440.24 L132.04,439.36 L131.60,438.49 L131.19,437.62 L130.83,436.78 L130.51,435.96 L130.25,435.15 L130.04,434.36 L129.88,433.58 L129.76,432.80 L129.67,432.03 L129.61,431.27 L129.58,430.52 L129.56,429.77 L129.55,429.03 L129.55,428.29 L129.55,427.55 L129.54,426.82 L129.52,426.09 L129.53,425.36 L129.54,424.63 L129.56,423.91 L129.59,423.19 L129.64,422.48 L129.69,421.78 L129.76,421.08 L129.84,420.39 L129.92,419.71 L130.02,419.04 L130.13,418.39 L130.25,417.74 L130.39,417.10 L130.54,416.47 L130.70,415.85 L130.87,415.23 L131.05,414.63 L131.24,414.03 L131.44,413.44 L131.65,412.86 L131.86,412.28 L132.08,411.71 L132.30,411.14 L132.54,410.59 L132.79,410.04 L133.06,409.50 L133.34,408.97 L133.63,408.45 L133.92,407.93 L134.21,407.42 L134.50,406.91 L134.78,406.40 L135.05,405.90 L135.31,405.40 L135.55,404.90 L135.79,404.40 L136.05,403.91 L136.32,403.41 L136.59,402.92 L136.86,402.43 L137.11,401.94 L137.33,401.46 L137.52,400.99 L137.67,400.52 L137.77,400.07 L137.81,399.62 M175.02,328.17 L175.93,328.26 L176.83,328.40 L177.74,328.57 " fill="none" stroke="#ff8000" stroke-width="2.4" stroke-linejoin="round" stroke-linecap="round"/>
<path d="M178.40,327.00 L189.40,333.30 L194.30,332.50 L199.90,335.70 L204.70,342.10 L206.30,346.90 L207.10,354.90 L207.90,359.70 L209.50,363.70 L214.30,363.70 L223.10,366.20 L230.40,374.20 L238.40,382.20 L243.20,392.60 L244.00,403.60 L243.70,414.90 L240.00,426.90 L234.40,437.30 L232.00,441.30 L227.10,447.00 L216.70,455.00 L215.10,458.20 L206.30,462.20 L200.70,465.40 L194.30,467.00 L181.40,467.80 L167.40,470.20 L165.80,465.40 L159.40,463.00 L155.40,463.00 L144.90,455.80 L136.10,447.00 L129.70,436.50 L129.80,423.40 L135.10,410.60 L137.80,401.50 L131.90,394.60 L128.70,385.00 L127.10,375.30 L127.30,364.50 L131.30,354.10 L137.70,345.30 L145.70,337.30 L156.20,331.70 L167.40,328.50Z" fill="none" stroke="#ff8000" stroke-width="1.7" stroke-linejoin="round"/>
<path d="M178.40,323.60 L179.28,325.79 L181.63,325.95 L179.83,327.46 L180.40,329.75 L178.40,328.50 L176.40,329.75 L176.97,327.46 L175.17,325.95 L177.52,325.79Z" fill="#fff" stroke="#ff9a33" stroke-width="0.75" stroke-linejoin="miter"/>
<path d="M189.40,329.90 L190.28,332.09 L192.63,332.25 L190.83,333.76 L191.40,336.05 L189.40,334.80 L187.40,336.05 L187.97,333.76 L186.17,332.25 L188.52,332.09Z" fill="#fff" stroke="#ff9a33" stroke-width="0.75" stroke-linejoin="miter"/>
<path d="M199.90,332.30 L200.78,334.49 L203.13,334.65 L201.33,336.16 L201.90,338.45 L199.90,337.20 L197.90,338.45 L198.47,336.16 L196.67,334.65 L199.02,334.49Z" fill="#fff" stroke="#ff9a33" stroke-width="0.75" stroke-linejoin="miter"/>
<path d="M206.30,343.50 L207.18,345.69 L209.53,345.85 L207.73,347.36 L208.30,349.65 L206.30,348.40 L204.30,349.65 L204.87,347.36 L203.07,345.85 L205.42,345.69Z" fill="#fff" stroke="#ff9a33" stroke-width="0.75" stroke-linejoin="miter"/>
<path d="M207.90,356.30 L208.78,358.49 L211.13,358.65 L209.33,360.16 L209.90,362.45 L207.90,361.20 L205.90,362.45 L206.47,360.16 L204.67,358.65 L207.02,358.49Z" fill="#fff" stroke="#ff9a33" stroke-width="0.75" stroke-linejoin="miter"/>
<path d="M214.30,360.30 L215.18,362.49 L217.53,362.65 L215.73,364.16 L216.30,366.45 L214.30,365.20 L212.30,366.45 L212.87,364.16 L211.07,362.65 L213.42,362.49Z" fill="#fff" stroke="#ff9a33" stroke-width="0.75" stroke-linejoin="miter"/>
<path d="M223.10,362.80 L223.98,364.99 L226.33,365.15 L224.53,366.66 L225.10,368.95 L223.10,367.70 L221.10,368.95 L221.67,366.66 L219.87,365.15 L222.22,364.99Z" fill="#fff" stroke="#ff9a33" stroke-width="0.75" stroke-linejoin="miter"/>
<path d="M230.40,370.80 L231.28,372.99 L233.63,373.15 L231.83,374.66 L232.40,376.95 L230.40,375.70 L228.40,376.95 L228.97,374.66 L227.17,373.15 L229.52,372.99Z" fill="#fff" stroke="#ff9a33" stroke-width="0.75" stroke-linejoin="miter"/>
<path d="M238.40,378.80 L239.28,380.99 L241.63,381.15 L239.83,382.66 L240.40,384.95 L238.40,383.70 L236.40,384.95 L236.97,382.66 L235.17,381.15 L237.52,380.99Z" fill="#fff" stroke="#ff9a33" stroke-width="0.75" stroke-linejoin="miter"/>
<path d="M243.20,389.20 L244.08,391.39 L246.43,391.55 L244.63,393.06 L245.20,395.35 L243.20,394.10 L241.20,395.35 L241.77,393.06 L239.97,391.55 L242.32,391.39Z" fill="#fff" stroke="#ff9a33" stroke-width="0.75" stroke-linejoin="miter"/>
<path d="M244.00,400.20 L244.88,402.39 L247.23,402.55 L245.43,404.06 L246.00,406.35 L244.00,405.10 L242.00,406.35 L242.57,404.06 L240.77,402.55 L243.12,402.39Z" fill="#fff" stroke="#ff9a33" stroke-width="0.75" stroke-linejoin="miter"/>
<path d="M243.70,411.50 L244.58,413.69 L246.93,413.85 L245.13,415.36 L245.70,417.65 L243.70,416.40 L241.70,417.65 L242.27,415.36 L240.47,413.85 L242.82,413.69Z" fill="#fff" stroke="#ff9a33" stroke-width="0.75" stroke-linejoin="miter"/>
<path d="M240.00,423.50 L240.88,425.69 L243.23,425.85 L241.43,427.36 L242.00,429.65 L240.00,428.40 L238.00,429.65 L238.57,427.36 L236.77,425.85 L239.12,425.69Z" fill="#fff" stroke="#ff9a33" stroke-width="0.75" stroke-linejoin="miter"/>
<path d="M234.40,433.90 L235.28,436.09 L237.63,436.25 L235.83,437.76 L236.40,440.05 L234.40,438.80 L232.40,440.05 L232.97,437.76 L231.17,436.25 L233.52,436.09Z" fill="#fff" stroke="#ff9a33" stroke-width="0.75" stroke-linejoin="miter"/>
<path d="M227.10,443.60 L227.98,445.79 L230.33,445.95 L228.53,447.46 L229.10,449.75 L227.10,448.50 L225.10,449.75 L225.67,447.46 L223.87,445.95 L226.22,445.79Z" fill="#fff" stroke="#ff9a33" stroke-width="0.75" stroke-linejoin="miter"/>
<path d="M216.70,451.60 L217.58,453.79 L219.93,453.95 L218.13,455.46 L218.70,457.75 L216.70,456.50 L214.70,457.75 L215.27,455.46 L213.47,453.95 L215.82,453.79Z" fill="#fff" stroke="#ff9a33" stroke-width="0.75" stroke-linejoin="miter"/>
<path d="M206.30,458.80 L207.18,460.99 L209.53,461.15 L207.73,462.66 L208.30,464.95 L206.30,463.70 L204.30,464.95 L204.87,462.66 L203.07,461.15 L205.42,460.99Z" fill="#fff" stroke="#ff9a33" stroke-width="0.75" stroke-linejoin="miter"/>
<path d="M194.30,463.60 L195.18,465.79 L197.53,465.95 L195.73,467.46 L196.30,469.75 L194.30,468.50 L192.30,469.75 L192.87,467.46 L191.07,465.95 L193.42,465.79Z" fill="#fff" stroke="#ff9a33" stroke-width="0.75" stroke-linejoin="miter"/>
<path d="M181.40,464.40 L182.28,466.59 L184.63,466.75 L182.83,468.26 L183.40,470.55 L181.40,469.30 L179.40,470.55 L179.97,468.26 L178.17,466.75 L180.52,466.59Z" fill="#fff" stroke="#ff9a33" stroke-width="0.75" stroke-linejoin="miter"/>
<path d="M167.40,466.80 L168.28,468.99 L170.63,469.15 L168.83,470.66 L169.40,472.95 L167.40,471.70 L165.40,472.95 L165.97,470.66 L164.17,469.15 L166.52,468.99Z" fill="#fff" stroke="#ff9a33" stroke-width="0.75" stroke-linejoin="miter"/>
<path d="M155.40,459.60 L156.28,461.79 L158.63,461.95 L156.83,463.46 L157.40,465.75 L155.40,464.50 L153.40,465.75 L153.97,463.46 L152.17,461.95 L154.52,461.79Z" fill="#fff" stroke="#ff9a33" stroke-width="0.75" stroke-linejoin="miter"/>
<path d="M144.90,452.40 L145.78,454.59 L148.13,454.75 L146.33,456.26 L146.90,458.55 L144.90,457.30 L142.90,458.55 L143.47,456.26 L141.67,454.75 L144.02,454.59Z" fill="#fff" stroke="#ff9a33" stroke-width="0.75" stroke-linejoin="miter"/>
<path d="M136.10,443.60 L136.98,445.79 L139.33,445.95 L137.53,447.46 L138.10,449.75 L136.10,448.50 L134.10,449.75 L134.67,447.46 L132.87,445.95 L135.22,445.79Z" fill="#fff" stroke="#ff9a33" stroke-width="0.75" stroke-linejoin="miter"/>
<path d="M129.70,433.10 L130.58,435.29 L132.93,435.45 L131.13,436.96 L131.70,439.25 L129.70,438.00 L127.70,439.25 L128.27,436.96 L126.47,435.45 L128.82,435.29Z" fill="#fff" stroke="#ff9a33" stroke-width="0.75" stroke-linejoin="miter"/>
<path d="M129.80,420.00 L130.68,422.19 L133.03,422.35 L131.23,423.86 L131.80,426.15 L129.80,424.90 L127.80,426.15 L128.37,423.86 L126.57,422.35 L128.92,422.19Z" fill="#fff" stroke="#ff9a33" stroke-width="0.75" stroke-linejoin="miter"/>
<path d="M135.10,407.20 L135.98,409.39 L138.33,409.55 L136.53,411.06 L137.10,413.35 L135.10,412.10 L133.10,413.35 L133.67,411.06 L131.87,409.55 L134.22,409.39Z" fill="#fff" stroke="#ff9a33" stroke-width="0.75" stroke-linejoin="miter"/>
<path d="M137.80,398.10 L138.68,400.29 L141.03,400.45 L139.23,401.96 L139.80,404.25 L137.80,403.00 L135.80,404.25 L136.37,401.96 L134.57,400.45 L136.92,400.29Z" fill="#fff" stroke="#ff9a33" stroke-width="0.75" stroke-linejoin="miter"/>
<path d="M131.90,391.20 L132.78,393.39 L135.13,393.55 L133.33,395.06 L133.90,397.35 L131.90,396.10 L129.90,397.35 L130.47,395.06 L128.67,393.55 L131.02,393.39Z" fill="#fff" stroke="#ff9a33" stroke-width="0.75" stroke-linejoin="miter"/>
<path d="M128.70,381.60 L129.58,383.79 L131.93,383.95 L130.13,385.46 L130.70,387.75 L128.70,386.50 L126.70,387.75 L127.27,385.46 L125.47,383.95 L127.82,383.79Z" fill="#fff" stroke="#ff9a33" stroke-width="0.75" stroke-linejoin="miter"/>
<path d="M127.10,371.90 L127.98,374.09 L130.33,374.25 L128.53,375.76 L129.10,378.05 L127.10,376.80 L125.10,378.05 L125.67,375.76 L123.87,374.25 L126.22,374.09Z" fill="#fff" stroke="#ff9a33" stroke-width="0.75" stroke-linejoin="miter"/>
<path d="M127.30,361.10 L128.18,363.29 L130.53,363.45 L128.73,364.96 L129.30,367.25 L127.30,366.00 L125.30,367.25 L125.87,364.96 L124.07,363.45 L126.42,363.29Z" fill="#fff" stroke="#ff9a33" stroke-width="0.75" stroke-linejoin="miter"/>
<path d="M131.30,350.70 L132.18,352.89 L134.53,353.05 L132.73,354.56 L133.30,356.85 L131.30,355.60 L129.30,356.85 L129.87,354.56 L128.07,353.05 L130.42,352.89Z" fill="#fff" stroke="#ff9a33" stroke-width="0.75" stroke-linejoin="miter"/>
<path d="M137.70,341.90 L138.58,344.09 L140.93,344.25 L139.13,345.76 L139.70,348.05 L137.70,346.80 L135.70,348.05 L136.27,345.76 L134.47,344.25 L136.82,344.09Z" fill="#fff" stroke="#ff9a33" stroke-width="0.75" stroke-linejoin="miter"/>
<path d="M145.70,333.90 L146.58,336.09 L148.93,336.25 L147.13,337.76 L147.70,340.05 L145.70,338.80 L143.70,340.05 L144.27,337.76 L142.47,336.25 L144.82,336.09Z" fill="#fff" stroke="#ff9a33" stroke-width="0.75" stroke-linejoin="miter"/>
<path d="M156.20,328.30 L157.08,330.49 L159.43,330.65 L157.63,332.16 L158.20,334.45 L156.20,333.20 L154.20,334.45 L154.77,332.16 L152.97,330.65 L155.32,330.49Z" fill="#fff" stroke="#ff9a33" stroke-width="0.75" stroke-linejoin="miter"/>
<path d="M167.40,325.10 L168.28,327.29 L170.63,327.45 L168.83,328.96 L169.40,331.25 L167.40,330.00 L165.40,331.25 L165.97,328.96 L164.17,327.45 L166.52,327.29Z" fill="#fff" stroke="#ff9a33" stroke-width="0.75" stroke-linejoin="miter"/>
<path d="M144.60,406.10 C145.47,405.00 147.98,403.35 150.50,401.50 C153.02,399.65 156.85,396.63 159.70,395.00 C162.55,393.37 164.97,392.37 167.60,391.70 C170.23,391.03 173.53,391.43 175.50,391.00 C177.47,390.57 177.65,389.75 179.40,389.10 C181.15,388.45 183.37,387.55 186.00,387.10 C188.63,386.65 191.92,386.30 195.20,386.40 C198.48,386.50 202.20,387.03 205.70,387.70 C209.20,388.37 212.80,389.42 216.20,390.40 C219.60,391.38 225.67,392.73 226.10,393.60 C226.53,394.47 222.20,394.93 218.80,395.60 C215.40,396.27 209.63,397.05 205.70,397.60 C201.77,398.15 197.62,397.80 195.20,398.90 C192.78,400.00 192.30,402.45 191.20,404.20 C190.10,405.95 189.90,408.10 188.60,409.40 C187.30,410.70 185.37,411.78 183.40,412.00 C181.43,412.22 178.78,411.68 176.80,410.70 C174.82,409.72 173.68,406.97 171.50,406.10 C169.32,405.23 166.77,405.28 163.70,405.50 C160.63,405.72 156.17,406.97 153.10,407.40 C150.03,407.83 146.72,408.32 145.30,408.10 C143.88,407.88 143.73,407.20 144.60,406.10Z" fill="none" stroke="#840000" stroke-width="2.3" stroke-linejoin="round"/>
<path d="M156.40,403.50 C156.27,402.77 159.50,399.13 161.70,397.60 C163.90,396.07 167.13,394.98 169.60,394.30 C172.07,393.62 174.43,394.05 176.50,393.50 C178.57,392.95 180.32,391.85 182.00,391.00 C183.68,390.15 184.83,388.50 186.60,388.40 C188.37,388.30 189.42,389.75 192.60,390.40 C195.78,391.05 204.62,391.32 205.70,392.30 C206.78,393.28 201.52,395.97 199.10,396.30 C196.68,396.63 193.55,394.10 191.20,394.30 C188.85,394.50 186.75,395.32 185.00,397.50 C183.25,399.68 181.97,406.83 180.70,407.40 C179.43,407.97 179.25,402.10 177.40,400.90 C175.55,399.70 172.08,400.02 169.60,400.20 C167.12,400.38 164.70,401.45 162.50,402.00 C160.30,402.55 156.53,404.23 156.40,403.50Z" fill="none" stroke="#840000" stroke-width="1.4" stroke-linejoin="round"/>
<circle cx="156.40" cy="403.50" r="2.4" fill="#fff" stroke="#840000" stroke-width="1.0"/>
<circle cx="161.70" cy="397.60" r="2.4" fill="#fff" stroke="#840000" stroke-width="1.0"/>
<circle cx="169.60" cy="394.30" r="2.4" fill="#fff" stroke="#840000" stroke-width="1.0"/>
<circle cx="182.00" cy="391.00" r="2.4" fill="#fff" stroke="#840000" stroke-width="1.0"/>
<circle cx="186.60" cy="388.40" r="2.4" fill="#fff" stroke="#840000" stroke-width="1.0"/>
<circle cx="192.60" cy="390.40" r="2.4" fill="#fff" stroke="#840000" stroke-width="1.0"/>
<circle cx="205.70" cy="392.30" r="2.4" fill="#fff" stroke="#840000" stroke-width="1.0"/>
<circle cx="199.10" cy="396.30" r="2.4" fill="#fff" stroke="#840000" stroke-width="1.0"/>
<circle cx="191.20" cy="394.30" r="2.4" fill="#fff" stroke="#840000" stroke-width="1.0"/>
<circle cx="180.70" cy="407.40" r="2.4" fill="#fff" stroke="#840000" stroke-width="1.0"/>
<circle cx="177.40" cy="400.90" r="2.4" fill="#fff" stroke="#840000" stroke-width="1.0"/>
<circle cx="169.60" cy="400.20" r="2.4" fill="#fff" stroke="#840000" stroke-width="1.0"/>
<path d="M526.30,299.20 C530.33,299.40 533.40,300.28 537.70,300.80 C542.00,301.32 547.57,301.13 552.10,302.30 C556.63,303.47 560.88,305.65 564.90,307.80 C568.92,309.95 572.59,312.34 576.20,315.20 C579.81,318.06 583.47,321.39 586.55,324.94 C589.63,328.48 592.48,333.00 594.65,336.48 C596.83,339.96 598.25,342.35 599.62,345.80 C600.98,349.24 602.05,353.63 602.86,357.14 C603.68,360.65 604.03,363.38 604.49,366.86 C604.95,370.34 605.55,373.21 605.60,378.00 C605.65,382.79 605.64,390.12 604.78,395.62 C603.91,401.12 602.27,406.17 600.41,411.01 C598.55,415.85 596.48,420.10 593.62,424.67 C590.77,429.24 587.28,434.43 583.28,438.43 C579.28,442.43 574.54,445.96 569.62,448.65 C564.71,451.35 558.97,452.91 553.80,454.60 C548.63,456.29 543.38,457.82 538.60,458.80 C533.82,459.78 529.10,460.35 525.10,460.50 C521.10,460.65 518.60,460.55 514.60,459.70 C510.60,458.85 505.90,457.38 501.10,455.40 C496.30,453.42 490.60,450.75 485.80,447.80 C481.00,444.85 476.25,441.37 472.30,437.70 C468.35,434.03 465.20,430.03 462.10,425.80 C459.00,421.57 455.95,416.80 453.70,412.30 C451.45,407.80 449.87,403.60 448.60,398.80 C447.33,394.00 446.52,386.97 446.10,383.50 C445.68,380.03 445.97,381.28 446.10,378.00 C446.23,374.72 446.23,368.30 446.90,363.80 C447.57,359.30 448.63,355.27 450.10,351.00 C451.57,346.73 453.43,342.22 455.70,338.20 C457.97,334.18 460.50,330.52 463.70,326.90 C466.90,323.28 470.88,319.57 474.90,316.50 C478.92,313.43 483.52,310.78 487.80,308.50 C492.08,306.22 496.32,304.28 500.60,302.80 C504.88,301.32 509.22,300.20 513.50,299.60 C517.78,299.00 522.27,299.00 526.30,299.20Z" fill="none" stroke="#ff8000" stroke-width="2.4" stroke-linejoin="round"/>
<path d="M525.60,300.40 L537.70,302.80 L542.50,302.00 L552.10,302.80 L564.90,308.50 L576.20,315.70 L585.80,326.10 L593.80,337.40 L585.80,343.80 L589.80,353.40 L593.00,364.60 L594.60,376.70 L593.60,388.60 L591.90,400.50 L587.30,411.50 L579.20,420.80 L570.80,429.20 L561.50,436.80 L550.50,442.80 L539.50,446.10 L540.30,458.00 L527.60,461.40 L512.90,459.70 L510.40,458.00 L509.50,452.90 L501.90,449.50 L489.20,444.50 L478.20,436.80 L468.90,427.50 L461.30,416.50 L456.20,405.50 L452.80,392.00 L452.00,378.50 L458.80,376.80 L458.90,367.80 L462.10,355.80 L466.90,345.40 L474.10,335.70 L481.40,327.70 L489.40,322.10 L487.00,313.30 L499.00,306.90 L512.70,303.60Z" fill="none" stroke="#ff8000" stroke-width="1.7" stroke-linejoin="round"/>
<path d="M525.60,297.00 L526.48,299.19 L528.83,299.35 L527.03,300.86 L527.60,303.15 L525.60,301.90 L523.60,303.15 L524.17,300.86 L522.37,299.35 L524.72,299.19Z" fill="#fff" stroke="#ff9a33" stroke-width="0.75" stroke-linejoin="miter"/>
<path d="M537.70,299.40 L538.58,301.59 L540.93,301.75 L539.13,303.26 L539.70,305.55 L537.70,304.30 L535.70,305.55 L536.27,303.26 L534.47,301.75 L536.82,301.59Z" fill="#fff" stroke="#ff9a33" stroke-width="0.75" stroke-linejoin="miter"/>
<path d="M552.10,299.40 L552.98,301.59 L555.33,301.75 L553.53,303.26 L554.10,305.55 L552.10,304.30 L550.10,305.55 L550.67,303.26 L548.87,301.75 L551.22,301.59Z" fill="#fff" stroke="#ff9a33" stroke-width="0.75" stroke-linejoin="miter"/>
<path d="M564.90,305.10 L565.78,307.29 L568.13,307.45 L566.33,308.96 L566.90,311.25 L564.90,310.00 L562.90,311.25 L563.47,308.96 L561.67,307.45 L564.02,307.29Z" fill="#fff" stroke="#ff9a33" stroke-width="0.75" stroke-linejoin="miter"/>
<path d="M576.20,312.30 L577.08,314.49 L579.43,314.65 L577.63,316.16 L578.20,318.45 L576.20,317.20 L574.20,318.45 L574.77,316.16 L572.97,314.65 L575.32,314.49Z" fill="#fff" stroke="#ff9a33" stroke-width="0.75" stroke-linejoin="miter"/>
<path d="M585.80,322.70 L586.68,324.89 L589.03,325.05 L587.23,326.56 L587.80,328.85 L585.80,327.60 L583.80,328.85 L584.37,326.56 L582.57,325.05 L584.92,324.89Z" fill="#fff" stroke="#ff9a33" stroke-width="0.75" stroke-linejoin="miter"/>
<path d="M593.80,334.00 L594.68,336.19 L597.03,336.35 L595.23,337.86 L595.80,340.15 L593.80,338.90 L591.80,340.15 L592.37,337.86 L590.57,336.35 L592.92,336.19Z" fill="#fff" stroke="#ff9a33" stroke-width="0.75" stroke-linejoin="miter"/>
<path d="M589.80,350.00 L590.68,352.19 L593.03,352.35 L591.23,353.86 L591.80,356.15 L589.80,354.90 L587.80,356.15 L588.37,353.86 L586.57,352.35 L588.92,352.19Z" fill="#fff" stroke="#ff9a33" stroke-width="0.75" stroke-linejoin="miter"/>
<path d="M593.00,361.20 L593.88,363.39 L596.23,363.55 L594.43,365.06 L595.00,367.35 L593.00,366.10 L591.00,367.35 L591.57,365.06 L589.77,363.55 L592.12,363.39Z" fill="#fff" stroke="#ff9a33" stroke-width="0.75" stroke-linejoin="miter"/>
<path d="M594.60,373.30 L595.48,375.49 L597.83,375.65 L596.03,377.16 L596.60,379.45 L594.60,378.20 L592.60,379.45 L593.17,377.16 L591.37,375.65 L593.72,375.49Z" fill="#fff" stroke="#ff9a33" stroke-width="0.75" stroke-linejoin="miter"/>
<path d="M593.60,385.20 L594.48,387.39 L596.83,387.55 L595.03,389.06 L595.60,391.35 L593.60,390.10 L591.60,391.35 L592.17,389.06 L590.37,387.55 L592.72,387.39Z" fill="#fff" stroke="#ff9a33" stroke-width="0.75" stroke-linejoin="miter"/>
<path d="M591.90,397.10 L592.78,399.29 L595.13,399.45 L593.33,400.96 L593.90,403.25 L591.90,402.00 L589.90,403.25 L590.47,400.96 L588.67,399.45 L591.02,399.29Z" fill="#fff" stroke="#ff9a33" stroke-width="0.75" stroke-linejoin="miter"/>
<path d="M587.30,408.10 L588.18,410.29 L590.53,410.45 L588.73,411.96 L589.30,414.25 L587.30,413.00 L585.30,414.25 L585.87,411.96 L584.07,410.45 L586.42,410.29Z" fill="#fff" stroke="#ff9a33" stroke-width="0.75" stroke-linejoin="miter"/>
<path d="M579.20,417.40 L580.08,419.59 L582.43,419.75 L580.63,421.26 L581.20,423.55 L579.20,422.30 L577.20,423.55 L577.77,421.26 L575.97,419.75 L578.32,419.59Z" fill="#fff" stroke="#ff9a33" stroke-width="0.75" stroke-linejoin="miter"/>
<path d="M570.80,425.80 L571.68,427.99 L574.03,428.15 L572.23,429.66 L572.80,431.95 L570.80,430.70 L568.80,431.95 L569.37,429.66 L567.57,428.15 L569.92,427.99Z" fill="#fff" stroke="#ff9a33" stroke-width="0.75" stroke-linejoin="miter"/>
<path d="M561.50,433.40 L562.38,435.59 L564.73,435.75 L562.93,437.26 L563.50,439.55 L561.50,438.30 L559.50,439.55 L560.07,437.26 L558.27,435.75 L560.62,435.59Z" fill="#fff" stroke="#ff9a33" stroke-width="0.75" stroke-linejoin="miter"/>
<path d="M550.50,439.40 L551.38,441.59 L553.73,441.75 L551.93,443.26 L552.50,445.55 L550.50,444.30 L548.50,445.55 L549.07,443.26 L547.27,441.75 L549.62,441.59Z" fill="#fff" stroke="#ff9a33" stroke-width="0.75" stroke-linejoin="miter"/>
<path d="M539.50,442.70 L540.38,444.89 L542.73,445.05 L540.93,446.56 L541.50,448.85 L539.50,447.60 L537.50,448.85 L538.07,446.56 L536.27,445.05 L538.62,444.89Z" fill="#fff" stroke="#ff9a33" stroke-width="0.75" stroke-linejoin="miter"/>
<path d="M527.60,458.00 L528.48,460.19 L530.83,460.35 L529.03,461.86 L529.60,464.15 L527.60,462.90 L525.60,464.15 L526.17,461.86 L524.37,460.35 L526.72,460.19Z" fill="#fff" stroke="#ff9a33" stroke-width="0.75" stroke-linejoin="miter"/>
<path d="M512.90,456.30 L513.78,458.49 L516.13,458.65 L514.33,460.16 L514.90,462.45 L512.90,461.20 L510.90,462.45 L511.47,460.16 L509.67,458.65 L512.02,458.49Z" fill="#fff" stroke="#ff9a33" stroke-width="0.75" stroke-linejoin="miter"/>
<path d="M501.90,446.10 L502.78,448.29 L505.13,448.45 L503.33,449.96 L503.90,452.25 L501.90,451.00 L499.90,452.25 L500.47,449.96 L498.67,448.45 L501.02,448.29Z" fill="#fff" stroke="#ff9a33" stroke-width="0.75" stroke-linejoin="miter"/>
<path d="M489.20,441.10 L490.08,443.29 L492.43,443.45 L490.63,444.96 L491.20,447.25 L489.20,446.00 L487.20,447.25 L487.77,444.96 L485.97,443.45 L488.32,443.29Z" fill="#fff" stroke="#ff9a33" stroke-width="0.75" stroke-linejoin="miter"/>
<path d="M478.20,433.40 L479.08,435.59 L481.43,435.75 L479.63,437.26 L480.20,439.55 L478.20,438.30 L476.20,439.55 L476.77,437.26 L474.97,435.75 L477.32,435.59Z" fill="#fff" stroke="#ff9a33" stroke-width="0.75" stroke-linejoin="miter"/>
<path d="M468.90,424.10 L469.78,426.29 L472.13,426.45 L470.33,427.96 L470.90,430.25 L468.90,429.00 L466.90,430.25 L467.47,427.96 L465.67,426.45 L468.02,426.29Z" fill="#fff" stroke="#ff9a33" stroke-width="0.75" stroke-linejoin="miter"/>
<path d="M461.30,413.10 L462.18,415.29 L464.53,415.45 L462.73,416.96 L463.30,419.25 L461.30,418.00 L459.30,419.25 L459.87,416.96 L458.07,415.45 L460.42,415.29Z" fill="#fff" stroke="#ff9a33" stroke-width="0.75" stroke-linejoin="miter"/>
<path d="M456.20,402.10 L457.08,404.29 L459.43,404.45 L457.63,405.96 L458.20,408.25 L456.20,407.00 L454.20,408.25 L454.77,405.96 L452.97,404.45 L455.32,404.29Z" fill="#fff" stroke="#ff9a33" stroke-width="0.75" stroke-linejoin="miter"/>
<path d="M452.80,388.60 L453.68,390.79 L456.03,390.95 L454.23,392.46 L454.80,394.75 L452.80,393.50 L450.80,394.75 L451.37,392.46 L449.57,390.95 L451.92,390.79Z" fill="#fff" stroke="#ff9a33" stroke-width="0.75" stroke-linejoin="miter"/>
<path d="M452.00,375.10 L452.88,377.29 L455.23,377.45 L453.43,378.96 L454.00,381.25 L452.00,380.00 L450.00,381.25 L450.57,378.96 L448.77,377.45 L451.12,377.29Z" fill="#fff" stroke="#ff9a33" stroke-width="0.75" stroke-linejoin="miter"/>
<path d="M458.90,364.40 L459.78,366.59 L462.13,366.75 L460.33,368.26 L460.90,370.55 L458.90,369.30 L456.90,370.55 L457.47,368.26 L455.67,366.75 L458.02,366.59Z" fill="#fff" stroke="#ff9a33" stroke-width="0.75" stroke-linejoin="miter"/>
<path d="M462.10,352.40 L462.98,354.59 L465.33,354.75 L463.53,356.26 L464.10,358.55 L462.10,357.30 L460.10,358.55 L460.67,356.26 L458.87,354.75 L461.22,354.59Z" fill="#fff" stroke="#ff9a33" stroke-width="0.75" stroke-linejoin="miter"/>
<path d="M466.90,342.00 L467.78,344.19 L470.13,344.35 L468.33,345.86 L468.90,348.15 L466.90,346.90 L464.90,348.15 L465.47,345.86 L463.67,344.35 L466.02,344.19Z" fill="#fff" stroke="#ff9a33" stroke-width="0.75" stroke-linejoin="miter"/>
<path d="M474.10,332.30 L474.98,334.49 L477.33,334.65 L475.53,336.16 L476.10,338.45 L474.10,337.20 L472.10,338.45 L472.67,336.16 L470.87,334.65 L473.22,334.49Z" fill="#fff" stroke="#ff9a33" stroke-width="0.75" stroke-linejoin="miter"/>
<path d="M481.40,324.30 L482.28,326.49 L484.63,326.65 L482.83,328.16 L483.40,330.45 L481.40,329.20 L479.40,330.45 L479.97,328.16 L478.17,326.65 L480.52,326.49Z" fill="#fff" stroke="#ff9a33" stroke-width="0.75" stroke-linejoin="miter"/>
<path d="M487.00,309.90 L487.88,312.09 L490.23,312.25 L488.43,313.76 L489.00,316.05 L487.00,314.80 L485.00,316.05 L485.57,313.76 L483.77,312.25 L486.12,312.09Z" fill="#fff" stroke="#ff9a33" stroke-width="0.75" stroke-linejoin="miter"/>
<path d="M499.00,303.50 L499.88,305.69 L502.23,305.85 L500.43,307.36 L501.00,309.65 L499.00,308.40 L497.00,309.65 L497.57,307.36 L495.77,305.85 L498.12,305.69Z" fill="#fff" stroke="#ff9a33" stroke-width="0.75" stroke-linejoin="miter"/>
<path d="M512.70,300.20 L513.58,302.39 L515.93,302.55 L514.13,304.06 L514.70,306.35 L512.70,305.10 L510.70,306.35 L511.27,304.06 L509.47,302.55 L511.82,302.39Z" fill="#fff" stroke="#ff9a33" stroke-width="0.75" stroke-linejoin="miter"/>
<path d="M525.00,345.60 C523.37,346.60 520.60,349.62 518.20,352.40 C515.80,355.18 512.50,358.88 510.60,362.30 C508.70,365.72 507.30,369.37 506.80,372.90 C506.30,376.43 506.72,379.97 507.60,383.50 C508.48,387.03 510.08,391.07 512.10,394.10 C514.12,397.13 517.42,399.18 519.70,401.70 C521.98,404.22 523.78,409.20 525.80,409.20 C527.82,409.20 529.53,404.22 531.80,401.70 C534.07,399.18 537.25,397.13 539.40,394.10 C541.55,391.07 543.68,386.78 544.70,383.50 C545.72,380.22 546.00,377.93 545.50,374.40 C545.00,370.87 543.48,365.83 541.70,362.30 C539.92,358.77 537.08,355.85 534.80,353.20 C532.52,350.55 529.63,347.67 528.00,346.40 C526.37,345.13 526.63,344.60 525.00,345.60Z" fill="none" stroke="#840000" stroke-width="2.5" stroke-linejoin="round"/>
<path d="M525.80,351.70 C523.65,353.47 519.43,362.77 517.40,366.80 C515.37,370.83 514.10,372.87 513.60,375.90 C513.10,378.93 513.13,382.22 514.40,385.00 C515.67,387.78 519.18,389.82 521.20,392.60 C523.22,395.38 524.73,401.83 526.50,401.70 C528.27,401.57 529.90,394.72 531.80,391.80 C533.70,388.88 536.63,386.97 537.90,384.20 C539.17,381.43 539.53,378.48 539.40,375.20 C539.27,371.92 538.62,367.67 537.10,364.50 C535.58,361.33 532.18,358.33 530.30,356.20 C528.42,354.07 527.95,349.93 525.80,351.70Z" fill="none" stroke="#840000" stroke-width="1.4" stroke-linejoin="round"/>
<circle cx="525.80" cy="351.70" r="2.5" fill="#fff" stroke="#840000" stroke-width="1.0"/>
<circle cx="517.40" cy="366.80" r="2.5" fill="#fff" stroke="#840000" stroke-width="1.0"/>
<circle cx="513.60" cy="375.90" r="2.5" fill="#fff" stroke="#840000" stroke-width="1.0"/>
<circle cx="514.40" cy="385.00" r="2.5" fill="#fff" stroke="#840000" stroke-width="1.0"/>
<circle cx="521.20" cy="392.60" r="2.5" fill="#fff" stroke="#840000" stroke-width="1.0"/>
<circle cx="531.80" cy="391.80" r="2.5" fill="#fff" stroke="#840000" stroke-width="1.0"/>
<circle cx="537.90" cy="384.20" r="2.5" fill="#fff" stroke="#840000" stroke-width="1.0"/>
<circle cx="539.40" cy="375.20" r="2.5" fill="#fff" stroke="#840000" stroke-width="1.0"/>
<circle cx="537.10" cy="364.50" r="2.5" fill="#fff" stroke="#840000" stroke-width="1.0"/>
<line x1="526.50" y1="378.00" x2="530.56" y2="379.09" stroke="#999" stroke-width="0.7"/>
<line x1="526.50" y1="378.00" x2="529.47" y2="380.97" stroke="#999" stroke-width="0.7"/>
<line x1="526.50" y1="378.00" x2="527.59" y2="382.06" stroke="#999" stroke-width="0.7"/>
<line x1="526.50" y1="378.00" x2="525.41" y2="382.06" stroke="#999" stroke-width="0.7"/>
<line x1="526.50" y1="378.00" x2="523.53" y2="380.97" stroke="#999" stroke-width="0.7"/>
<line x1="526.50" y1="378.00" x2="522.44" y2="379.09" stroke="#999" stroke-width="0.7"/>
<line x1="526.50" y1="378.00" x2="522.44" y2="376.91" stroke="#999" stroke-width="0.7"/>
<line x1="526.50" y1="378.00" x2="523.53" y2="375.03" stroke="#999" stroke-width="0.7"/>
<line x1="526.50" y1="378.00" x2="525.41" y2="373.94" stroke="#999" stroke-width="0.7"/>
<line x1="526.50" y1="378.00" x2="527.59" y2="373.94" stroke="#999" stroke-width="0.7"/>
<line x1="526.50" y1="378.00" x2="529.47" y2="375.03" stroke="#999" stroke-width="0.7"/>
<line x1="526.50" y1="378.00" x2="530.56" y2="376.91" stroke="#999" stroke-width="0.7"/>
</svg></body></html>
